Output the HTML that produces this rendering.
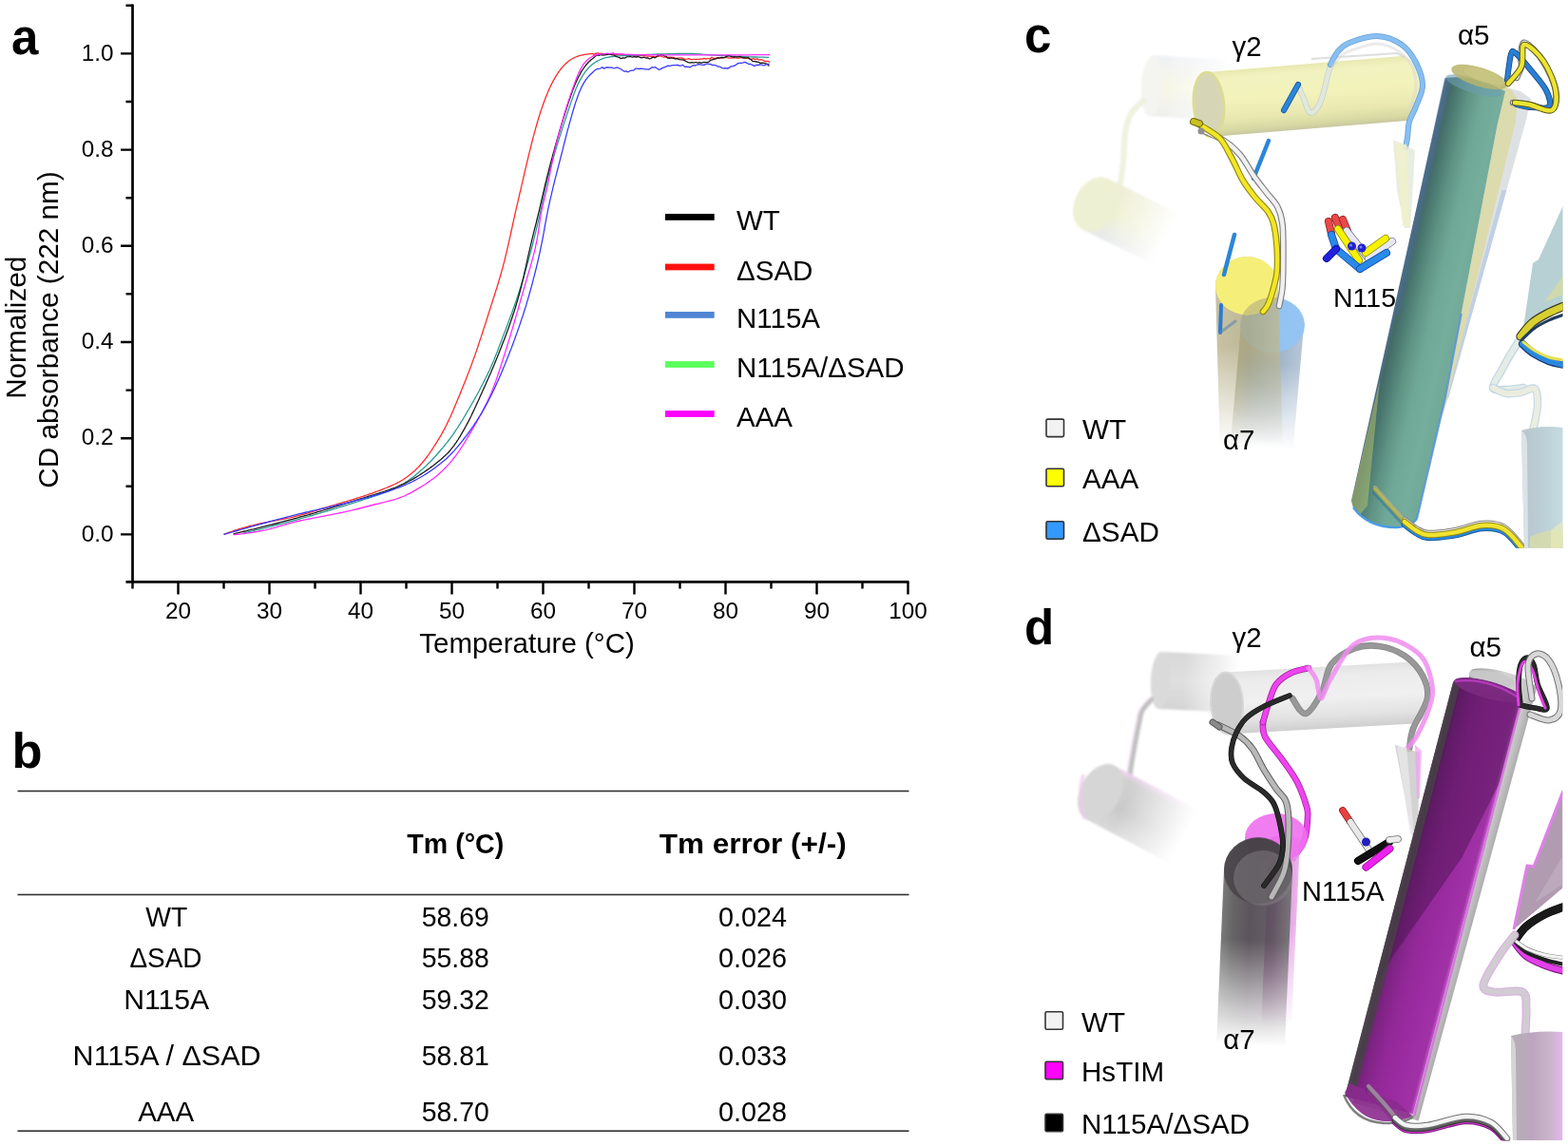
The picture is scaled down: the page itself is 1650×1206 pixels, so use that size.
<!DOCTYPE html>
<html><head><meta charset="utf-8"><title>Figure</title>
<style>html,body{margin:0;padding:0;background:#fff;} svg{display:block;}</style></head>
<body><svg width="1650" height="1206" viewBox="0 0 1650 1206">
<rect width="1650" height="1206" fill="#fff"/>
<text x="12" y="57" font-family="'Liberation Sans', Arial, sans-serif" font-weight="bold" font-size="51">a</text>
<path d="M139.5 4.5 V612.4 M132.5 612.4 H956.5" stroke="#000" stroke-width="2.7" fill="none"/>
<path d="M127.0 562.4 H139.5 M132.5 511.8 H139.5 M127.0 461.2 H139.5 M132.5 410.6 H139.5 M127.0 360.0 H139.5 M132.5 309.4 H139.5 M127.0 258.8 H139.5 M132.5 208.2 H139.5 M127.0 157.6 H139.5 M132.5 107.0 H139.5 M127.0 56.4 H139.5 M132.5 5.8 H139.5 M139.5 612.4 V619.4 M187.5 612.4 V625.4 M235.5 612.4 V619.4 M283.5 612.4 V625.4 M331.5 612.4 V619.4 M379.5 612.4 V625.4 M427.5 612.4 V619.4 M475.5 612.4 V625.4 M523.5 612.4 V619.4 M571.5 612.4 V625.4 M619.5 612.4 V619.4 M667.5 612.4 V625.4 M715.5 612.4 V619.4 M763.5 612.4 V625.4 M811.5 612.4 V619.4 M859.5 612.4 V625.4 M907.5 612.4 V619.4 M955.5 612.4 V625.4" stroke="#000" stroke-width="2.4" fill="none"/>
<text x="119.6" y="569.6" text-anchor="end" font-family="'Liberation Sans', Arial, sans-serif" font-size="24.3">0.0</text>
<text x="119.6" y="468.4" text-anchor="end" font-family="'Liberation Sans', Arial, sans-serif" font-size="24.3">0.2</text>
<text x="119.6" y="367.2" text-anchor="end" font-family="'Liberation Sans', Arial, sans-serif" font-size="24.3">0.4</text>
<text x="119.6" y="266.0" text-anchor="end" font-family="'Liberation Sans', Arial, sans-serif" font-size="24.3">0.6</text>
<text x="119.6" y="164.8" text-anchor="end" font-family="'Liberation Sans', Arial, sans-serif" font-size="24.3">0.8</text>
<text x="119.6" y="63.6" text-anchor="end" font-family="'Liberation Sans', Arial, sans-serif" font-size="24.3">1.0</text>
<text x="187.5" y="651.2" text-anchor="middle" font-family="'Liberation Sans', Arial, sans-serif" font-size="24.3">20</text>
<text x="283.5" y="651.2" text-anchor="middle" font-family="'Liberation Sans', Arial, sans-serif" font-size="24.3">30</text>
<text x="379.5" y="651.2" text-anchor="middle" font-family="'Liberation Sans', Arial, sans-serif" font-size="24.3">40</text>
<text x="475.5" y="651.2" text-anchor="middle" font-family="'Liberation Sans', Arial, sans-serif" font-size="24.3">50</text>
<text x="571.5" y="651.2" text-anchor="middle" font-family="'Liberation Sans', Arial, sans-serif" font-size="24.3">60</text>
<text x="667.5" y="651.2" text-anchor="middle" font-family="'Liberation Sans', Arial, sans-serif" font-size="24.3">70</text>
<text x="763.5" y="651.2" text-anchor="middle" font-family="'Liberation Sans', Arial, sans-serif" font-size="24.3">80</text>
<text x="859.5" y="651.2" text-anchor="middle" font-family="'Liberation Sans', Arial, sans-serif" font-size="24.3">90</text>
<text x="955.5" y="651.2" text-anchor="middle" font-family="'Liberation Sans', Arial, sans-serif" font-size="24.3">100</text>
<text x="554.5" y="687.1" text-anchor="middle" font-family="'Liberation Sans', Arial, sans-serif" font-size="29.5">Temperature (°C)</text>
<text transform="translate(27 344.8) rotate(-90)" text-anchor="middle" font-family="'Liberation Sans', Arial, sans-serif" font-size="29.7">Normalized</text>
<text transform="translate(61.2 347) rotate(-90)" text-anchor="middle" font-family="'Liberation Sans', Arial, sans-serif" font-size="29.7">CD absorbance (222 nm)</text>
<rect x="700" y="225.0" width="51.7" height="6.8" fill="#000000"/>
<text x="775" y="242.0" font-family="'Liberation Sans', Arial, sans-serif" font-size="29.5">WT</text>
<rect x="700" y="277.6" width="51.7" height="6.8" fill="#ff1010"/>
<text x="775" y="294.6" font-family="'Liberation Sans', Arial, sans-serif" font-size="29.5">ΔSAD</text>
<rect x="700" y="328.0" width="51.7" height="6.8" fill="#4f86d4"/>
<text x="775" y="345.0" font-family="'Liberation Sans', Arial, sans-serif" font-size="29.5">N115A</text>
<rect x="700" y="380.1" width="51.7" height="6.8" fill="#5cff5c"/>
<text x="775" y="397.1" font-family="'Liberation Sans', Arial, sans-serif" font-size="29.5">N115A/ΔSAD</text>
<rect x="700" y="432.1" width="51.7" height="6.8" fill="#ff00ff"/>
<text x="775" y="449.1" font-family="'Liberation Sans', Arial, sans-serif" font-size="29.5">AAA</text>
<path d="M235.5 562.4 L237.6 561.6 L239.6 560.9 L241.5 560.2 L243.4 559.5 L245.2 558.9 L247.0 558.2 L248.9 557.6 L250.7 557.0 L252.6 556.5 L254.5 555.9 L256.4 555.3 L258.3 554.8 L260.2 554.3 L262.1 553.7 L264.0 553.2 L266.0 552.8 L267.9 552.3 L269.9 551.9 L271.8 551.4 L273.8 551.0 L275.7 550.6 L277.7 550.2 L279.6 549.8 L281.6 549.4 L283.6 549.0 L285.5 548.7 L287.5 548.3 L289.5 547.9 L291.4 547.6 L293.4 547.2 L295.4 546.8 L297.3 546.4 L299.3 546.0 L301.3 545.6 L303.2 545.2 L305.2 544.8 L307.1 544.3 L309.1 543.9 L311.0 543.4 L312.9 542.9 L314.9 542.4 L316.8 541.9 L318.7 541.4 L320.7 540.8 L322.6 540.3 L324.5 539.7 L326.4 539.2 L328.3 538.6 L330.2 538.0 L332.2 537.4 L334.1 536.8 L336.0 536.2 L337.9 535.6 L339.8 535.0 L341.7 534.5 L343.6 533.9 L345.6 533.3 L347.5 532.7 L349.4 532.1 L351.3 531.6 L353.2 531.0 L355.1 530.4 L357.1 529.8 L359.0 529.3 L360.9 528.7 L362.8 528.1 L364.7 527.6 L366.6 527.0 L368.6 526.4 L370.5 525.9 L372.4 525.3 L374.3 524.7 L376.2 524.1 L378.1 523.5 L380.0 522.9 L381.9 522.3 L383.8 521.6 L385.7 521.0 L387.6 520.4 L389.5 519.7 L391.4 519.1 L393.3 518.4 L395.2 517.7 L397.0 517.0 L398.9 516.3 L400.8 515.6 L402.7 514.9 L404.5 514.2 L406.4 513.5 L408.2 512.7 L410.1 511.9 L411.9 511.1 L413.7 510.3 L415.5 509.5 L417.3 508.6 L419.1 507.7 L420.8 506.7 L422.5 505.7 L424.2 504.7 L425.9 503.6 L427.5 502.5 L429.2 501.3 L430.7 500.1 L432.3 498.8 L433.8 497.6 L435.3 496.2 L436.8 494.9 L438.3 493.5 L439.7 492.1 L441.1 490.7 L442.4 489.2 L443.7 487.7 L445.0 486.2 L446.3 484.7 L447.5 483.1 L448.7 481.5 L449.9 479.9 L451.1 478.3 L452.2 476.7 L453.3 475.0 L454.5 473.3 L455.6 471.7 L456.6 470.0 L457.7 468.3 L458.8 466.6 L459.9 464.9 L460.9 463.2 L461.9 461.5 L463.0 459.8 L464.0 458.1 L465.0 456.3 L465.9 454.6 L466.9 452.8 L467.8 451.1 L468.7 449.3 L469.7 447.5 L470.5 445.7 L471.4 443.9 L472.3 442.1 L473.1 440.3 L474.0 438.5 L474.8 436.7 L475.6 434.8 L476.4 433.0 L477.2 431.2 L477.9 429.3 L478.7 427.5 L479.5 425.6 L480.3 423.8 L481.0 421.9 L481.8 420.1 L482.5 418.2 L483.3 416.4 L484.1 414.5 L484.8 412.7 L485.6 410.8 L486.3 409.0 L487.1 407.1 L487.8 405.3 L488.6 403.4 L489.3 401.6 L490.1 399.7 L490.8 397.8 L491.5 396.0 L492.2 394.1 L493.0 392.2 L493.7 390.4 L494.4 388.5 L495.1 386.6 L495.8 384.8 L496.5 382.9 L497.2 381.0 L497.8 379.1 L498.5 377.2 L499.2 375.4 L499.9 373.5 L500.5 371.6 L501.2 369.7 L501.8 367.8 L502.5 365.9 L503.1 364.0 L503.7 362.1 L504.4 360.2 L505.0 358.3 L505.6 356.4 L506.3 354.5 L506.9 352.6 L507.5 350.7 L508.1 348.8 L508.7 346.9 L509.3 345.0 L510.0 343.1 L510.6 341.2 L511.2 339.3 L511.8 337.4 L512.4 335.5 L513.0 333.6 L513.6 331.7 L514.2 329.8 L514.8 327.9 L515.4 326.0 L516.0 324.1 L516.6 322.1 L517.3 320.2 L517.9 318.3 L518.5 316.4 L519.1 314.5 L519.7 312.6 L520.3 310.7 L520.9 308.8 L521.5 306.9 L522.1 305.0 L522.7 303.1 L523.3 301.2 L523.9 299.2 L524.5 297.3 L525.0 295.4 L525.6 293.5 L526.2 291.6 L526.7 289.7 L527.3 287.7 L527.8 285.8 L528.3 283.9 L528.9 282.0 L529.4 280.0 L529.9 278.1 L530.4 276.2 L530.9 274.2 L531.4 272.3 L531.8 270.4 L532.3 268.4 L532.8 266.5 L533.2 264.5 L533.7 262.6 L534.1 260.6 L534.6 258.7 L535.0 256.7 L535.5 254.8 L535.9 252.8 L536.3 250.9 L536.8 248.9 L537.2 247.0 L537.6 245.0 L538.0 243.0 L538.5 241.1 L538.9 239.1 L539.3 237.2 L539.7 235.2 L540.2 233.3 L540.6 231.3 L541.0 229.4 L541.5 227.4 L541.9 225.5 L542.3 223.5 L542.8 221.6 L543.2 219.6 L543.7 217.7 L544.1 215.7 L544.6 213.8 L545.0 211.8 L545.5 209.9 L545.9 207.9 L546.4 206.0 L546.8 204.0 L547.3 202.1 L547.8 200.1 L548.2 198.2 L548.7 196.2 L549.1 194.3 L549.6 192.3 L550.0 190.4 L550.5 188.4 L550.9 186.5 L551.4 184.5 L551.8 182.6 L552.3 180.6 L552.7 178.7 L553.2 176.7 L553.6 174.8 L554.1 172.8 L554.5 170.9 L555.0 169.0 L555.5 167.0 L555.9 165.1 L556.4 163.1 L556.9 161.2 L557.4 159.2 L557.9 157.3 L558.3 155.4 L558.8 153.4 L559.3 151.5 L559.8 149.5 L560.3 147.6 L560.8 145.7 L561.3 143.7 L561.8 141.8 L562.3 139.8 L562.9 137.9 L563.4 136.0 L563.9 134.1 L564.5 132.1 L565.0 130.2 L565.6 128.3 L566.1 126.4 L566.7 124.5 L567.3 122.5 L567.9 120.6 L568.5 118.7 L569.1 116.8 L569.8 114.9 L570.4 113.0 L571.1 111.1 L571.7 109.2 L572.4 107.4 L573.1 105.5 L573.8 103.6 L574.5 101.7 L575.3 99.9 L576.1 98.0 L576.8 96.2 L577.6 94.4 L578.5 92.6 L579.3 90.7 L580.2 88.9 L581.1 87.2 L582.0 85.4 L583.0 83.6 L584.0 81.9 L585.0 80.2 L586.0 78.5 L587.1 76.8 L588.3 75.2 L589.5 73.5 L590.7 72.0 L592.0 70.4 L593.3 69.0 L594.6 67.6 L596.1 66.2 L597.6 64.9 L599.1 63.8 L600.7 62.7 L602.3 61.7 L604.0 60.8 L605.8 60.0 L607.6 59.3 L609.5 58.7 L611.3 58.2 L613.2 57.8 L615.2 57.4 L617.1 57.1 L619.1 56.8 L621.1 56.6 L623.1 56.4 L625.1 57.4 L627.1 56.1 L629.1 55.9 L631.1 56.7 L633.1 56.2 L635.1 56.6 L637.1 56.7 L639.1 57.2 L641.1 56.6 L643.1 56.9 L645.1 56.0 L647.1 56.8 L649.1 58.0 L651.1 57.1 L653.1 57.2 L655.1 57.1 L657.1 58.0 L659.1 57.9 L661.1 57.4 L663.0 58.3 L665.0 58.2 L667.0 58.5 L669.0 58.0 L671.0 59.1 L673.0 58.6 L675.0 58.5 L677.0 58.4 L679.0 58.6 L681.0 59.2 L683.0 58.8 L685.0 59.5 L687.0 59.4 L689.0 59.8 L691.0 59.7 L693.0 59.4 L695.0 58.7 L697.0 59.8 L699.0 60.2 L701.0 60.1 L703.0 60.5 L705.0 60.2 L707.0 60.4 L709.0 60.4 L711.0 61.6 L713.0 61.2 L715.0 61.1 L717.0 60.9 L718.9 61.6 L720.9 62.4 L722.9 62.1 L724.9 61.6 L726.9 62.6 L728.9 62.6 L730.9 62.4 L732.9 62.3 L734.9 62.4 L736.9 62.1 L738.9 62.1 L740.9 61.3 L742.9 62.2 L744.9 61.5 L746.9 62.2 L748.9 60.3 L750.9 61.4 L752.9 61.4 L754.9 60.7 L756.9 61.0 L758.9 61.1 L760.9 60.9 L762.9 60.4 L764.9 60.5 L766.9 61.1 L768.9 61.2 L770.9 60.7 L772.9 60.8 L774.9 60.9 L776.9 61.4 L778.9 60.6 L780.9 60.6 L782.9 61.3 L784.9 60.9 L786.9 61.3 L788.9 61.8 L790.9 62.1 L792.8 61.6 L794.8 62.7 L796.8 61.9 L798.8 63.2 L800.7 62.7 L802.7 63.2 L804.7 64.5 L806.6 64.4 L808.6 64.7 L810.3 65.3" stroke="#ff2a2a" stroke-width="1.3" fill="none" stroke-linejoin="round"/>
<path d="M256.4 561.0 L258.6 560.5 L260.7 560.0 L262.6 559.5 L264.6 559.1 L266.4 558.6 L268.3 558.2 L270.2 557.7 L272.1 557.3 L274.0 556.8 L275.9 556.3 L277.8 555.9 L279.8 555.4 L281.7 554.9 L283.6 554.4 L285.6 553.9 L287.5 553.4 L289.4 552.9 L291.4 552.4 L293.3 551.9 L295.2 551.4 L297.2 550.9 L299.1 550.4 L301.1 549.9 L303.0 549.4 L304.9 548.9 L306.8 548.4 L308.8 547.8 L310.7 547.3 L312.6 546.8 L314.6 546.3 L316.5 545.7 L318.4 545.2 L320.3 544.7 L322.3 544.1 L324.2 543.6 L326.1 543.0 L328.0 542.5 L330.0 542.0 L331.9 541.4 L333.8 540.8 L335.7 540.3 L337.7 539.7 L339.6 539.2 L341.5 538.6 L343.4 538.0 L345.3 537.5 L347.3 536.9 L349.2 536.3 L351.1 535.7 L353.0 535.2 L354.9 534.6 L356.8 534.0 L358.7 533.4 L360.7 532.8 L362.6 532.2 L364.5 531.6 L366.4 531.0 L368.3 530.4 L370.2 529.8 L372.1 529.2 L374.0 528.6 L375.9 528.0 L377.8 527.4 L379.7 526.8 L381.6 526.2 L383.5 525.5 L385.5 524.9 L387.4 524.3 L389.3 523.7 L391.2 523.1 L393.1 522.5 L395.0 521.8 L396.9 521.2 L398.8 520.6 L400.7 519.9 L402.6 519.2 L404.5 518.6 L406.4 517.9 L408.3 517.2 L410.1 516.4 L411.9 515.7 L413.8 514.9 L415.5 514.0 L417.3 513.2 L419.1 512.2 L420.8 511.3 L422.5 510.3 L424.2 509.3 L425.9 508.2 L427.5 507.1 L429.2 506.0 L430.8 504.8 L432.4 503.6 L434.0 502.4 L435.6 501.2 L437.1 499.9 L438.7 498.6 L440.2 497.4 L441.8 496.1 L443.3 494.8 L444.8 493.5 L446.3 492.1 L447.8 490.8 L449.2 489.4 L450.6 488.0 L452.1 486.6 L453.5 485.2 L454.8 483.8 L456.2 482.3 L457.6 480.8 L458.9 479.3 L460.2 477.8 L461.5 476.3 L462.8 474.8 L464.1 473.3 L465.4 471.8 L466.7 470.2 L468.0 468.7 L469.2 467.1 L470.5 465.6 L471.7 464.0 L472.9 462.4 L474.1 460.8 L475.3 459.2 L476.5 457.6 L477.6 455.9 L478.7 454.3 L479.8 452.6 L480.9 451.0 L482.0 449.3 L483.1 447.6 L484.2 445.9 L485.2 444.2 L486.3 442.5 L487.3 440.8 L488.3 439.1 L489.4 437.4 L490.4 435.6 L491.4 433.9 L492.4 432.2 L493.4 430.5 L494.4 428.7 L495.4 427.0 L496.4 425.3 L497.4 423.5 L498.4 421.8 L499.4 420.0 L500.3 418.3 L501.3 416.5 L502.3 414.8 L503.2 413.0 L504.2 411.3 L505.1 409.5 L506.0 407.7 L507.0 405.9 L507.9 404.2 L508.8 402.4 L509.7 400.6 L510.6 398.8 L511.5 397.0 L512.4 395.2 L513.3 393.4 L514.1 391.6 L515.0 389.8 L515.8 388.0 L516.6 386.2 L517.4 384.3 L518.2 382.5 L519.0 380.7 L519.8 378.8 L520.5 377.0 L521.3 375.1 L522.0 373.3 L522.7 371.4 L523.5 369.5 L524.2 367.7 L524.9 365.8 L525.6 363.9 L526.3 362.1 L527.0 360.2 L527.7 358.3 L528.4 356.4 L529.1 354.6 L529.8 352.7 L530.6 350.8 L531.3 349.0 L532.0 347.1 L532.7 345.2 L533.4 343.3 L534.1 341.5 L534.8 339.6 L535.5 337.7 L536.2 335.8 L536.9 334.0 L537.6 332.1 L538.3 330.2 L539.0 328.3 L539.6 326.4 L540.3 324.6 L541.0 322.7 L541.6 320.8 L542.3 318.9 L543.0 317.0 L543.6 315.1 L544.2 313.2 L544.9 311.3 L545.5 309.4 L546.1 307.5 L546.7 305.6 L547.3 303.7 L547.9 301.8 L548.5 299.9 L549.1 298.0 L549.7 296.1 L550.3 294.2 L550.9 292.3 L551.4 290.4 L552.0 288.4 L552.5 286.5 L553.1 284.6 L553.6 282.7 L554.2 280.7 L554.7 278.8 L555.3 276.9 L555.8 275.0 L556.3 273.0 L556.8 271.1 L557.3 269.2 L557.9 267.2 L558.4 265.3 L558.9 263.4 L559.4 261.4 L559.9 259.5 L560.4 257.6 L560.9 255.6 L561.4 253.7 L561.9 251.7 L562.3 249.8 L562.8 247.9 L563.3 245.9 L563.8 244.0 L564.2 242.0 L564.7 240.1 L565.2 238.1 L565.6 236.2 L566.1 234.2 L566.5 232.3 L567.0 230.3 L567.4 228.4 L567.8 226.4 L568.3 224.5 L568.7 222.5 L569.1 220.6 L569.5 218.6 L569.9 216.7 L570.3 214.7 L570.7 212.7 L571.1 210.8 L571.5 208.8 L571.9 206.9 L572.4 204.9 L572.8 202.9 L573.2 201.0 L573.6 199.0 L574.1 197.1 L574.5 195.1 L575.0 193.2 L575.5 191.3 L576.0 189.3 L576.4 187.4 L576.9 185.4 L577.5 183.5 L578.0 181.6 L578.5 179.6 L579.0 177.7 L579.5 175.8 L580.1 173.9 L580.6 171.9 L581.2 170.0 L581.7 168.1 L582.3 166.2 L582.8 164.2 L583.4 162.3 L583.9 160.4 L584.5 158.5 L585.1 156.6 L585.7 154.6 L586.2 152.7 L586.8 150.8 L587.4 148.9 L588.0 147.0 L588.6 145.1 L589.2 143.2 L589.8 141.3 L590.4 139.4 L591.0 137.5 L591.6 135.6 L592.2 133.7 L592.9 131.8 L593.5 129.9 L594.1 128.0 L594.8 126.1 L595.4 124.2 L596.0 122.3 L596.7 120.4 L597.3 118.4 L597.9 116.5 L598.6 114.6 L599.2 112.7 L599.8 110.8 L600.5 108.9 L601.1 107.0 L601.8 105.1 L602.4 103.2 L603.1 101.3 L603.8 99.4 L604.5 97.5 L605.2 95.7 L605.9 93.8 L606.7 92.0 L607.5 90.2 L608.3 88.4 L609.2 86.6 L610.1 84.8 L611.1 83.1 L612.1 81.3 L613.1 79.6 L614.2 78.0 L615.3 76.3 L616.5 74.7 L617.8 73.2 L619.1 71.7 L620.5 70.3 L621.9 69.0 L623.3 67.8 L624.9 66.6 L626.6 65.5 L628.3 64.4 L630.1 63.5 L631.9 62.6 L633.8 61.8 L635.7 61.2 L637.6 60.7 L639.5 60.3 L641.4 60.0 L643.4 59.7 L645.4 59.5 L647.4 59.2 L649.4 59.0 L651.5 58.9 L653.5 58.7 L655.5 58.6 L657.5 58.6 L659.5 58.5 L661.5 58.4 L663.5 58.4 L665.5 58.3 L667.5 58.2 L669.5 58.2 L671.5 58.1 L673.5 58.0 L675.5 57.9 L677.5 57.7 L679.4 57.6 L681.4 57.5 L683.4 57.4 L685.4 57.3 L687.4 57.2 L689.4 57.1 L691.4 57.0 L693.4 57.0 L695.4 56.9 L697.4 56.9 L699.4 56.8 L701.4 56.8 L703.4 56.7 L705.4 56.7 L707.4 56.6 L709.4 56.6 L711.4 56.5 L713.4 56.5 L715.4 56.5 L717.4 56.4 L719.4 56.4 L721.4 56.4 L723.4 56.4 L725.4 56.4 L727.4 56.4 L729.4 56.5 L731.4 56.6 L733.4 56.7 L735.4 56.8 L737.4 57.0 L739.4 57.2 L741.4 57.3 L743.4 57.5 L745.4 57.6 L747.4 57.8 L749.4 57.9 L751.4 58.1 L753.4 58.2 L755.4 58.3 L757.4 58.4 L759.4 58.5 L761.4 58.6 L763.4 58.7 L765.4 58.8 L767.4 58.9 L769.3 59.0 L771.3 59.1 L773.3 59.2 L775.3 59.3 L777.3 59.4 L779.3 59.5 L781.3 59.5 L783.3 59.6 L785.3 59.7 L787.3 59.8 L789.3 59.8 L791.3 59.9 L793.3 60.0 L795.3 60.0 L797.3 60.1 L799.3 60.1 L801.3 60.2 L803.3 60.2 L805.3 60.3 L807.3 60.3 L809.3 60.4" stroke="#2a9a92" stroke-width="1.3" fill="none" stroke-linejoin="round"/>
<path d="M245.5 561.8 L247.7 561.3 L249.8 560.8 L251.8 560.4 L253.7 559.9 L255.5 559.5 L257.4 559.0 L259.3 558.6 L261.2 558.1 L263.1 557.7 L265.0 557.2 L267.0 556.8 L268.9 556.3 L270.8 555.8 L272.8 555.4 L274.7 554.9 L276.6 554.4 L278.6 553.9 L280.5 553.4 L282.5 552.9 L284.4 552.4 L286.3 552.0 L288.3 551.5 L290.2 551.0 L292.2 550.5 L294.1 550.0 L296.0 549.4 L298.0 548.9 L299.9 548.4 L301.8 547.9 L303.8 547.4 L305.7 546.9 L307.6 546.4 L309.5 545.8 L311.5 545.3 L313.4 544.8 L315.3 544.2 L317.2 543.7 L319.2 543.2 L321.1 542.6 L323.0 542.1 L324.9 541.5 L326.9 541.0 L328.8 540.4 L330.7 539.9 L332.6 539.3 L334.5 538.7 L336.5 538.2 L338.4 537.6 L340.3 537.0 L342.2 536.4 L344.1 535.9 L346.0 535.3 L348.0 534.7 L349.9 534.1 L351.8 533.5 L353.7 532.9 L355.6 532.4 L357.5 531.8 L359.4 531.2 L361.3 530.6 L363.2 530.0 L365.2 529.4 L367.1 528.8 L369.0 528.2 L370.9 527.6 L372.8 527.0 L374.7 526.4 L376.6 525.8 L378.5 525.2 L380.4 524.6 L382.3 524.0 L384.3 523.4 L386.2 522.8 L388.1 522.2 L390.0 521.7 L391.9 521.1 L393.8 520.5 L395.8 519.9 L397.7 519.3 L399.6 518.7 L401.5 518.1 L403.4 517.5 L405.3 516.9 L407.2 516.2 L409.1 515.6 L411.0 514.9 L412.8 514.2 L414.7 513.5 L416.6 512.8 L418.4 512.0 L420.2 511.2 L422.1 510.4 L423.9 509.6 L425.7 508.8 L427.5 507.9 L429.2 507.0 L431.0 506.0 L432.7 505.1 L434.5 504.1 L436.2 503.1 L437.9 502.1 L439.6 501.0 L441.3 500.0 L443.0 498.9 L444.7 497.8 L446.4 496.7 L448.0 495.6 L449.7 494.4 L451.3 493.3 L452.9 492.1 L454.6 490.9 L456.2 489.7 L457.7 488.5 L459.3 487.3 L460.9 486.0 L462.4 484.8 L464.0 483.5 L465.5 482.2 L466.9 480.8 L468.4 479.5 L469.8 478.1 L471.2 476.7 L472.6 475.2 L473.9 473.7 L475.1 472.2 L476.4 470.6 L477.6 469.1 L478.7 467.4 L479.9 465.8 L481.0 464.1 L482.1 462.5 L483.1 460.8 L484.2 459.1 L485.2 457.3 L486.2 455.6 L487.2 453.9 L488.2 452.2 L489.2 450.4 L490.1 448.7 L491.1 446.9 L492.0 445.1 L493.0 443.4 L493.9 441.6 L494.8 439.8 L495.7 438.0 L496.5 436.2 L497.4 434.4 L498.2 432.6 L499.1 430.8 L499.9 429.0 L500.8 427.2 L501.6 425.3 L502.4 423.5 L503.3 421.7 L504.1 419.9 L504.9 418.0 L505.7 416.2 L506.6 414.4 L507.4 412.6 L508.2 410.7 L509.0 408.9 L509.9 407.1 L510.7 405.3 L511.5 403.4 L512.3 401.6 L513.1 399.8 L513.9 398.0 L514.7 396.1 L515.6 394.3 L516.4 392.5 L517.1 390.6 L517.9 388.8 L518.7 387.0 L519.5 385.1 L520.3 383.3 L521.0 381.4 L521.8 379.6 L522.5 377.7 L523.3 375.9 L524.0 374.0 L524.8 372.2 L525.5 370.3 L526.2 368.4 L527.0 366.6 L527.7 364.7 L528.4 362.8 L529.1 361.0 L529.9 359.1 L530.6 357.2 L531.3 355.4 L532.0 353.5 L532.7 351.6 L533.4 349.7 L534.1 347.8 L534.8 346.0 L535.5 344.1 L536.1 342.2 L536.8 340.3 L537.5 338.4 L538.1 336.5 L538.8 334.6 L539.4 332.7 L540.0 330.8 L540.7 328.9 L541.3 327.0 L541.9 325.1 L542.5 323.2 L543.1 321.3 L543.6 319.4 L544.2 317.5 L544.8 315.6 L545.3 313.7 L545.8 311.7 L546.4 309.8 L546.9 307.9 L547.4 306.0 L547.9 304.0 L548.4 302.1 L548.9 300.2 L549.3 298.2 L549.8 296.3 L550.3 294.3 L550.7 292.4 L551.2 290.4 L551.6 288.5 L552.0 286.5 L552.5 284.6 L552.9 282.6 L553.4 280.7 L553.8 278.7 L554.2 276.8 L554.6 274.8 L555.1 272.8 L555.5 270.9 L555.9 268.9 L556.4 267.0 L556.8 265.0 L557.3 263.1 L557.7 261.1 L558.2 259.2 L558.6 257.2 L559.1 255.3 L559.5 253.3 L560.0 251.4 L560.5 249.4 L561.0 247.5 L561.4 245.6 L561.9 243.6 L562.4 241.7 L562.9 239.7 L563.4 237.8 L563.9 235.9 L564.4 233.9 L564.8 232.0 L565.3 230.0 L565.8 228.1 L566.3 226.1 L566.7 224.2 L567.2 222.3 L567.7 220.3 L568.1 218.4 L568.6 216.4 L569.0 214.5 L569.5 212.5 L569.9 210.6 L570.4 208.6 L570.8 206.7 L571.3 204.7 L571.7 202.8 L572.2 200.8 L572.6 198.9 L573.1 196.9 L573.5 195.0 L574.0 193.0 L574.5 191.1 L575.0 189.2 L575.4 187.2 L575.9 185.3 L576.4 183.3 L576.9 181.4 L577.4 179.5 L577.9 177.5 L578.4 175.6 L578.9 173.7 L579.4 171.7 L579.9 169.8 L580.4 167.9 L581.0 165.9 L581.5 164.0 L582.0 162.1 L582.5 160.1 L583.1 158.2 L583.6 156.3 L584.1 154.3 L584.7 152.4 L585.2 150.5 L585.8 148.6 L586.3 146.6 L586.9 144.7 L587.4 142.8 L588.0 140.9 L588.5 139.0 L589.1 137.0 L589.7 135.1 L590.3 133.2 L590.8 131.3 L591.4 129.4 L592.0 127.5 L592.6 125.6 L593.2 123.6 L593.8 121.7 L594.4 119.8 L595.0 117.9 L595.6 116.0 L596.2 114.1 L596.8 112.2 L597.4 110.3 L598.0 108.4 L598.7 106.5 L599.3 104.6 L600.0 102.7 L600.6 100.8 L601.3 98.9 L602.0 97.0 L602.6 95.1 L603.4 93.3 L604.1 91.4 L604.8 89.5 L605.6 87.7 L606.4 85.9 L607.3 84.1 L608.1 82.3 L609.0 80.5 L610.0 78.7 L610.9 76.9 L611.9 75.2 L613.0 73.5 L614.1 71.9 L615.2 70.3 L616.4 68.7 L617.7 67.2 L619.0 65.8 L620.4 64.4 L621.9 63.0 L623.5 61.8 L625.1 60.6 L626.8 58.9 L628.5 57.8 L630.3 58.3 L632.2 57.5 L634.2 58.0 L636.2 57.9 L638.3 57.5 L640.3 57.1 L642.3 57.2 L644.2 57.9 L646.1 57.7 L648.0 59.3 L649.9 60.0 L651.8 60.6 L653.7 61.7 L655.7 60.9 L657.6 61.2 L659.6 59.8 L661.6 59.7 L663.5 59.5 L665.5 60.2 L667.5 59.6 L669.6 60.0 L671.6 59.5 L673.6 60.5 L675.6 60.8 L677.6 60.1 L679.6 61.0 L681.5 60.9 L683.5 62.0 L685.5 61.2 L687.4 60.2 L689.3 60.8 L691.2 59.2 L693.1 58.1 L695.0 57.9 L696.9 57.6 L698.9 58.8 L700.8 59.1 L702.7 61.0 L704.6 61.4 L706.5 60.9 L708.5 61.3 L710.5 62.0 L712.5 61.6 L714.5 62.6 L716.4 62.9 L718.4 62.9 L720.3 63.6 L722.3 64.7 L724.2 65.7 L726.1 66.1 L728.1 65.6 L730.1 66.1 L732.1 65.5 L734.1 66.1 L736.1 65.6 L738.2 66.4 L740.1 65.5 L742.1 65.6 L744.0 65.6 L745.8 65.2 L747.7 63.4 L749.6 62.9 L751.4 62.4 L753.4 61.9 L755.3 61.0 L757.3 61.0 L759.2 60.4 L761.2 60.8 L763.2 60.1 L765.2 59.0 L767.2 58.5 L769.2 59.4 L771.2 60.0 L773.2 59.7 L775.2 60.2 L777.2 59.7 L779.2 59.5 L781.2 60.7 L783.2 60.6 L785.2 61.1 L787.1 60.5 L788.9 62.0 L790.5 62.9 L792.2 64.7 L794.0 64.7 L796.0 65.0 L798.0 65.3 L800.0 66.4 L802.0 66.2 L803.9 66.3 L805.8 66.8 L807.6 67.6 L809.5 69.6" stroke="#1a1a1a" stroke-width="1.3" fill="none" stroke-linejoin="round"/>
<path d="M245.5 562.7 L247.8 562.5 L249.9 562.3 L251.9 562.1 L253.9 561.9 L255.8 561.7 L257.7 561.5 L259.6 561.2 L261.5 560.9 L263.5 560.6 L265.4 560.3 L267.4 560.0 L269.3 559.7 L271.3 559.4 L273.2 559.0 L275.2 558.6 L277.1 558.2 L279.1 557.8 L281.0 557.3 L283.0 556.9 L284.9 556.4 L286.8 555.9 L288.8 555.3 L290.7 554.8 L292.6 554.2 L294.5 553.7 L296.5 553.1 L298.4 552.6 L300.3 552.0 L302.2 551.5 L304.2 550.9 L306.1 550.4 L308.0 549.9 L310.0 549.4 L311.9 548.9 L313.9 548.5 L315.8 548.0 L317.8 547.6 L319.7 547.2 L321.7 546.8 L323.6 546.4 L325.6 546.0 L327.6 545.6 L329.5 545.2 L331.5 544.8 L333.5 544.4 L335.4 544.1 L337.4 543.7 L339.4 543.3 L341.3 543.0 L343.3 542.6 L345.3 542.2 L347.2 541.9 L349.2 541.5 L351.1 541.1 L353.1 540.7 L355.1 540.3 L357.0 539.9 L359.0 539.5 L360.9 539.1 L362.9 538.7 L364.9 538.2 L366.8 537.8 L368.7 537.3 L370.7 536.9 L372.6 536.4 L374.6 536.0 L376.5 535.5 L378.5 535.0 L380.4 534.5 L382.3 534.0 L384.3 533.5 L386.2 533.0 L388.2 532.5 L390.1 532.0 L392.0 531.5 L394.0 531.0 L395.9 530.5 L397.9 530.1 L399.8 529.6 L401.7 529.1 L403.7 528.6 L405.6 528.2 L407.6 527.7 L409.5 527.2 L411.4 526.7 L413.4 526.2 L415.3 525.6 L417.2 525.0 L419.1 524.4 L420.9 523.7 L422.8 523.0 L424.6 522.3 L426.4 521.5 L428.2 520.6 L430.0 519.7 L431.8 518.8 L433.6 517.9 L435.3 516.9 L437.1 515.9 L438.8 514.9 L440.5 513.9 L442.2 512.9 L444.0 511.8 L445.6 510.7 L447.3 509.7 L449.0 508.6 L450.7 507.4 L452.3 506.3 L453.9 505.1 L455.5 503.9 L457.1 502.7 L458.7 501.5 L460.2 500.2 L461.7 498.9 L463.2 497.6 L464.7 496.3 L466.1 494.9 L467.5 493.5 L468.9 492.0 L470.3 490.6 L471.6 489.1 L473.0 487.6 L474.3 486.1 L475.6 484.6 L476.8 483.0 L478.1 481.5 L479.3 479.9 L480.5 478.3 L481.7 476.7 L482.8 475.0 L483.9 473.4 L485.0 471.7 L486.1 470.1 L487.2 468.4 L488.3 466.7 L489.3 465.0 L490.3 463.3 L491.4 461.5 L492.4 459.8 L493.4 458.1 L494.4 456.4 L495.5 454.7 L496.5 452.9 L497.5 451.2 L498.5 449.5 L499.5 447.7 L500.5 446.0 L501.5 444.3 L502.4 442.5 L503.4 440.8 L504.4 439.0 L505.3 437.3 L506.3 435.5 L507.2 433.8 L508.2 432.0 L509.1 430.2 L510.0 428.4 L510.9 426.6 L511.8 424.8 L512.7 423.0 L513.5 421.2 L514.4 419.4 L515.2 417.6 L516.0 415.8 L516.8 414.0 L517.5 412.1 L518.3 410.3 L519.0 408.4 L519.7 406.5 L520.4 404.7 L521.1 402.8 L521.8 400.9 L522.4 399.0 L523.1 397.1 L523.7 395.2 L524.4 393.3 L525.0 391.4 L525.6 389.5 L526.2 387.6 L526.8 385.7 L527.5 383.8 L528.1 381.9 L528.7 380.0 L529.3 378.1 L529.9 376.2 L530.5 374.3 L531.1 372.4 L531.7 370.5 L532.3 368.5 L532.9 366.6 L533.5 364.7 L534.1 362.8 L534.6 360.9 L535.2 359.0 L535.8 357.1 L536.4 355.2 L537.0 353.3 L537.5 351.3 L538.1 349.4 L538.7 347.5 L539.3 345.6 L539.8 343.7 L540.4 341.7 L541.0 339.8 L541.5 337.9 L542.1 336.0 L542.7 334.1 L543.2 332.1 L543.8 330.2 L544.3 328.3 L544.9 326.4 L545.4 324.5 L546.0 322.5 L546.5 320.6 L547.1 318.7 L547.6 316.8 L548.2 314.8 L548.7 312.9 L549.3 311.0 L549.8 309.1 L550.4 307.2 L550.9 305.2 L551.5 303.3 L552.0 301.4 L552.6 299.5 L553.2 297.5 L553.7 295.6 L554.3 293.7 L554.8 291.8 L555.4 289.8 L556.0 287.9 L556.5 286.0 L557.1 284.1 L557.7 282.1 L558.2 280.2 L558.8 278.3 L559.3 276.4 L559.8 274.4 L560.4 272.5 L560.9 270.6 L561.4 268.6 L561.9 266.7 L562.4 264.8 L562.8 262.8 L563.3 260.9 L563.7 258.9 L564.1 257.0 L564.5 255.0 L564.9 253.1 L565.3 251.1 L565.6 249.2 L566.0 247.2 L566.3 245.2 L566.6 243.2 L566.9 241.3 L567.2 239.3 L567.5 237.3 L567.8 235.3 L568.0 233.3 L568.3 231.4 L568.6 229.4 L569.0 227.4 L569.3 225.4 L569.6 223.5 L570.0 221.5 L570.4 219.6 L570.8 217.6 L571.3 215.7 L571.7 213.7 L572.2 211.8 L572.7 209.8 L573.2 207.9 L573.6 206.0 L574.1 204.0 L574.6 202.1 L575.1 200.1 L575.5 198.2 L576.0 196.2 L576.4 194.3 L576.8 192.3 L577.2 190.4 L577.6 188.4 L578.0 186.4 L578.4 184.5 L578.8 182.5 L579.1 180.5 L579.5 178.6 L579.9 176.6 L580.3 174.7 L580.7 172.7 L581.1 170.7 L581.5 168.8 L581.9 166.8 L582.3 164.9 L582.7 162.9 L583.1 161.0 L583.6 159.0 L584.0 157.1 L584.5 155.1 L584.9 153.2 L585.4 151.2 L585.9 149.3 L586.4 147.3 L586.9 145.4 L587.4 143.5 L587.9 141.5 L588.4 139.6 L588.9 137.7 L589.5 135.7 L590.0 133.8 L590.5 131.9 L591.1 129.9 L591.6 128.0 L592.2 126.1 L592.7 124.2 L593.3 122.3 L593.8 120.3 L594.4 118.4 L595.0 116.5 L595.6 114.6 L596.2 112.7 L596.8 110.8 L597.4 108.9 L598.0 107.0 L598.6 105.1 L599.3 103.2 L599.9 101.3 L600.5 99.4 L601.2 97.5 L601.9 95.5 L602.5 93.6 L603.2 91.7 L603.9 89.8 L604.6 87.9 L605.3 85.9 L606.0 84.0 L606.8 82.1 L607.5 80.2 L608.3 78.3 L609.1 76.5 L610.0 74.6 L610.9 72.9 L611.8 71.2 L612.8 69.5 L613.8 67.9 L615.0 66.4 L616.2 65.0 L617.4 63.7 L618.8 62.5 L620.3 61.3 L622.0 60.2 L623.7 59.2 L625.5 58.4 L627.4 57.8 L629.2 57.4 L631.2 57.1 L633.1 56.8 L635.2 56.6 L637.2 56.5 L639.2 56.4 L641.2 56.4 L643.2 56.5 L645.2 56.5 L647.2 56.6 L649.2 56.7 L651.2 56.8 L653.2 56.9 L655.2 57.0 L657.2 57.1 L659.2 57.3 L661.2 57.4 L663.2 57.5 L665.2 57.5 L667.2 57.6 L669.2 57.6 L671.2 57.6 L673.2 57.7 L675.2 57.7 L677.2 57.7 L679.2 57.7 L681.2 57.7 L683.2 57.7 L685.2 57.8 L687.2 57.8 L689.2 57.8 L691.2 57.8 L693.2 57.8 L695.2 57.8 L697.2 57.8 L699.2 57.9 L701.2 57.9 L703.2 57.9 L705.2 57.9 L707.2 57.9 L709.2 57.9 L711.2 57.9 L713.2 57.9 L715.2 57.9 L717.2 57.9 L719.2 57.9 L721.2 57.9 L723.2 57.9 L725.2 57.9 L727.2 57.9 L729.2 57.9 L731.2 57.9 L733.2 57.9 L735.2 57.9 L737.2 57.9 L739.2 57.9 L741.2 57.9 L743.2 57.9 L745.2 57.9 L747.2 57.9 L749.2 57.9 L751.2 57.9 L753.2 57.9 L755.2 57.9 L757.2 57.9 L759.2 57.9 L761.2 57.9 L763.2 57.9 L765.2 57.9 L767.2 57.9 L769.2 57.8 L771.2 57.8 L773.2 57.8 L775.2 57.8 L777.2 57.8 L779.2 57.8 L781.2 57.8 L783.2 57.8 L785.2 57.8 L787.2 57.8 L789.2 57.8 L791.2 57.7 L793.2 57.7 L795.2 57.7 L797.2 57.7 L799.2 57.7 L801.2 57.7 L803.2 57.7 L805.2 57.6 L807.2 57.6 L809.2 57.6 L810.3 57.6" stroke="#ff2aff" stroke-width="1.3" fill="none" stroke-linejoin="round"/>
<path d="M235.5 562.4 L237.7 561.8 L239.7 561.2 L241.7 560.6 L243.5 560.1 L245.4 559.5 L247.3 559.0 L249.1 558.5 L251.0 558.0 L252.9 557.4 L254.8 556.9 L256.7 556.4 L258.6 555.8 L260.5 555.3 L262.4 554.7 L264.4 554.2 L266.3 553.7 L268.2 553.1 L270.2 552.6 L272.1 552.1 L274.0 551.5 L275.9 551.0 L277.9 550.5 L279.8 550.0 L281.7 549.5 L283.7 548.9 L285.6 548.4 L287.5 547.9 L289.5 547.4 L291.4 546.9 L293.3 546.4 L295.3 545.9 L297.2 545.4 L299.1 544.9 L301.1 544.3 L303.0 543.8 L304.9 543.4 L306.9 542.9 L308.8 542.4 L310.8 541.9 L312.7 541.4 L314.6 540.9 L316.6 540.4 L318.5 540.0 L320.5 539.5 L322.4 539.0 L324.4 538.6 L326.3 538.1 L328.3 537.7 L330.2 537.2 L332.2 536.8 L334.1 536.3 L336.1 535.9 L338.0 535.4 L340.0 535.0 L341.9 534.5 L343.9 534.1 L345.8 533.6 L347.8 533.2 L349.7 532.8 L351.7 532.3 L353.6 531.9 L355.6 531.4 L357.5 531.0 L359.5 530.5 L361.4 530.1 L363.4 529.6 L365.3 529.1 L367.2 528.6 L369.2 528.2 L371.1 527.7 L373.1 527.2 L375.0 526.7 L376.9 526.2 L378.9 525.7 L380.8 525.2 L382.7 524.7 L384.7 524.1 L386.6 523.6 L388.5 523.1 L390.4 522.5 L392.4 522.0 L394.3 521.4 L396.2 520.9 L398.1 520.3 L400.0 519.7 L401.9 519.1 L403.9 518.5 L405.8 517.9 L407.7 517.3 L409.6 516.6 L411.5 516.0 L413.3 515.3 L415.2 514.7 L417.1 514.0 L419.0 513.3 L420.8 512.6 L422.7 511.8 L424.5 511.1 L426.4 510.3 L428.2 509.5 L430.0 508.7 L431.8 507.8 L433.6 507.0 L435.4 506.1 L437.2 505.2 L439.0 504.2 L440.7 503.3 L442.5 502.3 L444.2 501.3 L445.9 500.3 L447.6 499.2 L449.3 498.1 L451.0 497.0 L452.6 495.9 L454.3 494.8 L455.9 493.6 L457.5 492.5 L459.2 491.3 L460.7 490.1 L462.3 488.8 L463.9 487.6 L465.4 486.3 L467.0 485.0 L468.5 483.7 L469.9 482.4 L471.4 481.0 L472.8 479.6 L474.2 478.2 L475.6 476.8 L477.0 475.4 L478.3 473.9 L479.6 472.4 L480.9 470.9 L482.2 469.3 L483.5 467.8 L484.7 466.2 L486.0 464.7 L487.2 463.1 L488.4 461.5 L489.7 459.9 L490.9 458.3 L492.1 456.7 L493.2 455.1 L494.4 453.5 L495.6 451.8 L496.7 450.2 L497.9 448.6 L499.0 446.9 L500.1 445.2 L501.2 443.6 L502.3 441.9 L503.4 440.2 L504.4 438.5 L505.5 436.8 L506.5 435.1 L507.5 433.4 L508.5 431.6 L509.5 429.9 L510.5 428.1 L511.4 426.4 L512.4 424.6 L513.3 422.9 L514.2 421.1 L515.2 419.3 L516.1 417.5 L517.0 415.8 L517.8 414.0 L518.7 412.2 L519.6 410.4 L520.4 408.6 L521.3 406.7 L522.1 404.9 L522.9 403.1 L523.8 401.3 L524.6 399.4 L525.4 397.6 L526.2 395.8 L527.0 393.9 L527.8 392.1 L528.5 390.2 L529.3 388.4 L530.1 386.6 L530.8 384.7 L531.6 382.9 L532.3 381.0 L533.1 379.1 L533.8 377.3 L534.6 375.4 L535.3 373.6 L536.0 371.7 L536.7 369.8 L537.5 368.0 L538.2 366.1 L538.9 364.2 L539.6 362.4 L540.3 360.5 L541.0 358.6 L541.7 356.7 L542.3 354.8 L543.0 353.0 L543.7 351.1 L544.4 349.2 L545.0 347.3 L545.7 345.4 L546.4 343.5 L547.0 341.6 L547.7 339.7 L548.3 337.8 L548.9 335.9 L549.5 334.0 L550.2 332.1 L550.8 330.2 L551.4 328.3 L552.0 326.4 L552.6 324.5 L553.2 322.6 L553.8 320.7 L554.3 318.8 L554.9 316.9 L555.5 314.9 L556.0 313.0 L556.6 311.1 L557.1 309.2 L557.7 307.3 L558.2 305.3 L558.7 303.4 L559.3 301.5 L559.8 299.5 L560.3 297.6 L560.8 295.7 L561.3 293.7 L561.8 291.8 L562.3 289.9 L562.8 287.9 L563.3 286.0 L563.8 284.0 L564.3 282.1 L564.7 280.1 L565.2 278.2 L565.7 276.3 L566.1 274.3 L566.6 272.4 L567.0 270.4 L567.4 268.4 L567.9 266.5 L568.3 264.5 L568.7 262.6 L569.1 260.6 L569.5 258.7 L569.9 256.7 L570.3 254.8 L570.7 252.8 L571.1 250.8 L571.4 248.9 L571.8 246.9 L572.2 244.9 L572.5 243.0 L572.9 241.0 L573.2 239.0 L573.6 237.0 L573.9 235.1 L574.3 233.1 L574.6 231.1 L575.0 229.2 L575.4 227.2 L575.8 225.2 L576.1 223.3 L576.5 221.3 L576.9 219.4 L577.3 217.4 L577.8 215.5 L578.2 213.5 L578.6 211.6 L579.1 209.6 L579.5 207.7 L580.0 205.7 L580.4 203.8 L580.9 201.8 L581.4 199.9 L581.8 197.9 L582.3 196.0 L582.8 194.0 L583.3 192.1 L583.7 190.2 L584.2 188.2 L584.7 186.3 L585.2 184.3 L585.7 182.4 L586.2 180.5 L586.7 178.5 L587.2 176.6 L587.7 174.6 L588.2 172.7 L588.7 170.8 L589.2 168.8 L589.7 166.9 L590.2 165.0 L590.7 163.0 L591.2 161.1 L591.7 159.1 L592.2 157.2 L592.6 155.3 L593.1 153.3 L593.6 151.4 L594.1 149.5 L594.6 147.5 L595.1 145.6 L595.6 143.6 L596.1 141.7 L596.6 139.8 L597.1 137.8 L597.6 135.9 L598.2 133.9 L598.7 132.0 L599.2 130.1 L599.7 128.2 L600.3 126.2 L600.8 124.3 L601.4 122.4 L601.9 120.5 L602.5 118.5 L603.0 116.6 L603.6 114.7 L604.2 112.8 L604.8 110.8 L605.4 108.9 L606.0 107.0 L606.7 105.1 L607.3 103.2 L608.0 101.3 L608.7 99.4 L609.4 97.6 L610.2 95.7 L611.0 93.9 L611.8 92.1 L612.7 90.3 L613.6 88.6 L614.6 86.9 L615.6 85.3 L616.7 83.6 L617.9 82.1 L619.2 80.6 L620.5 79.2 L621.9 77.8 L623.4 76.4 L624.9 75.1 L626.5 73.5 L628.2 72.7 L629.9 72.4 L631.8 72.1 L633.7 70.7 L635.7 72.1 L637.7 71.0 L639.7 70.8 L641.8 71.2 L643.8 71.0 L645.8 72.0 L647.7 71.4 L649.6 71.0 L651.5 71.8 L653.3 72.8 L655.2 74.0 L657.0 75.2 L658.9 74.9 L660.8 75.8 L662.8 74.7 L664.7 74.1 L666.7 74.1 L668.7 72.2 L670.6 72.2 L672.6 72.5 L674.6 72.1 L676.6 72.3 L678.6 72.9 L680.6 72.8 L682.5 73.2 L684.4 72.2 L686.1 70.6 L687.8 71.1 L689.6 70.7 L691.4 72.0 L693.2 73.3 L695.1 72.9 L697.0 71.6 L698.9 70.8 L700.9 70.2 L702.8 69.2 L704.8 69.4 L706.7 68.9 L708.7 68.6 L710.7 68.7 L712.7 68.5 L714.7 69.0 L716.7 69.1 L718.6 68.4 L720.5 70.4 L722.4 70.2 L724.3 70.3 L726.2 70.8 L728.1 69.4 L730.0 68.7 L731.9 69.0 L733.9 68.0 L735.9 67.7 L737.9 68.1 L739.9 68.4 L741.9 68.0 L743.9 67.0 L745.9 67.3 L747.9 67.6 L749.9 68.6 L751.8 68.5 L753.8 69.2 L755.7 70.1 L757.6 70.2 L759.5 71.4 L761.4 72.0 L763.3 71.6 L765.2 72.0 L767.1 71.5 L768.9 69.9 L770.8 69.9 L772.7 69.1 L774.5 68.3 L776.4 66.7 L778.3 66.3 L780.2 66.4 L782.1 65.9 L784.0 65.3 L786.0 66.3 L787.9 67.5 L789.8 67.5 L791.8 68.3 L793.8 69.6 L795.7 68.5 L797.7 68.5 L799.7 68.0 L801.7 68.1 L803.7 69.0 L805.7 68.1 L807.7 67.5 L809.7 67.3" stroke="#3a3aff" stroke-width="1.3" fill="none" stroke-linejoin="round"/>
<text x="12.5" y="808" font-family="'Liberation Sans', Arial, sans-serif" font-weight="bold" font-size="52.5">b</text>
<rect x="18.5" y="831.7" width="938" height="1.6" fill="#303030"/>
<rect x="18.5" y="940.7" width="938" height="1.6" fill="#303030"/>
<rect x="18.5" y="1189.4" width="938" height="1.6" fill="#303030"/>
<text x="479.3" y="898" text-anchor="middle" font-family="'Liberation Sans', 'Noto Sans CJK KR', sans-serif" font-weight="bold" font-size="29" textLength="102" lengthAdjust="spacingAndGlyphs">Tm (°C)</text>
<text x="792.2" y="898" text-anchor="middle" font-family="'Liberation Sans', 'Noto Sans CJK KR', sans-serif" font-weight="bold" font-size="29" textLength="197" lengthAdjust="spacingAndGlyphs">Tm error (+/-)</text>
<text x="175.2" y="974.6" text-anchor="middle" font-family="'Liberation Sans', 'Noto Sans CJK KR', sans-serif" font-size="30" textLength="44" lengthAdjust="spacingAndGlyphs">WT</text>
<text x="479.3" y="974.6" text-anchor="middle" font-family="'Liberation Sans', 'Noto Sans CJK KR', sans-serif" font-size="30" textLength="71" lengthAdjust="spacingAndGlyphs">58.69</text>
<text x="792" y="974.6" text-anchor="middle" font-family="'Liberation Sans', 'Noto Sans CJK KR', sans-serif" font-size="30" textLength="72" lengthAdjust="spacingAndGlyphs">0.024</text>
<text x="174.4" y="1018.2" text-anchor="middle" font-family="'Liberation Sans', 'Noto Sans CJK KR', sans-serif" font-size="30" textLength="76" lengthAdjust="spacingAndGlyphs">ΔSAD</text>
<text x="479.3" y="1018.2" text-anchor="middle" font-family="'Liberation Sans', 'Noto Sans CJK KR', sans-serif" font-size="30" textLength="71" lengthAdjust="spacingAndGlyphs">55.88</text>
<text x="792" y="1018.2" text-anchor="middle" font-family="'Liberation Sans', 'Noto Sans CJK KR', sans-serif" font-size="30" textLength="72" lengthAdjust="spacingAndGlyphs">0.026</text>
<text x="175.2" y="1061.8" text-anchor="middle" font-family="'Liberation Sans', 'Noto Sans CJK KR', sans-serif" font-size="30" textLength="90" lengthAdjust="spacingAndGlyphs">N115A</text>
<text x="479.3" y="1061.8" text-anchor="middle" font-family="'Liberation Sans', 'Noto Sans CJK KR', sans-serif" font-size="30" textLength="71" lengthAdjust="spacingAndGlyphs">59.32</text>
<text x="792" y="1061.8" text-anchor="middle" font-family="'Liberation Sans', 'Noto Sans CJK KR', sans-serif" font-size="30" textLength="72" lengthAdjust="spacingAndGlyphs">0.030</text>
<text x="175.6" y="1121.2" text-anchor="middle" font-family="'Liberation Sans', 'Noto Sans CJK KR', sans-serif" font-size="30" textLength="198" lengthAdjust="spacingAndGlyphs">N115A / ΔSAD</text>
<text x="479.3" y="1121.2" text-anchor="middle" font-family="'Liberation Sans', 'Noto Sans CJK KR', sans-serif" font-size="30" textLength="71" lengthAdjust="spacingAndGlyphs">58.81</text>
<text x="792" y="1121.2" text-anchor="middle" font-family="'Liberation Sans', 'Noto Sans CJK KR', sans-serif" font-size="30" textLength="72" lengthAdjust="spacingAndGlyphs">0.033</text>
<text x="174.7" y="1179.8" text-anchor="middle" font-family="'Liberation Sans', 'Noto Sans CJK KR', sans-serif" font-size="30" textLength="59" lengthAdjust="spacingAndGlyphs">AAA</text>
<text x="479.3" y="1179.8" text-anchor="middle" font-family="'Liberation Sans', 'Noto Sans CJK KR', sans-serif" font-size="30" textLength="71" lengthAdjust="spacingAndGlyphs">58.70</text>
<text x="792" y="1179.8" text-anchor="middle" font-family="'Liberation Sans', 'Noto Sans CJK KR', sans-serif" font-size="30" textLength="72" lengthAdjust="spacingAndGlyphs">0.028</text>
<defs><clipPath id="clipC"><rect x="1060" y="0" width="584.5" height="576.8"/></clipPath></defs><g clip-path="url(#clipC)">
<defs><filter id="fblurC" x="-20%" y="-20%" width="140%" height="140%"><feGaussianBlur stdDeviation="1.3"/></filter></defs><g filter="url(#fblurC)">
<defs><linearGradient id="ccg1" gradientUnits="userSpaceOnUse" x1="0" y1="-32" x2="0" y2="32"><stop offset="0" stop-color="#eef0f6" stop-opacity="1"/><stop offset="0.5" stop-color="#f6f6e4" stop-opacity="1"/><stop offset="1" stop-color="#eeeeee" stop-opacity="1"/></linearGradient><linearGradient id="cfg3" gradientUnits="userSpaceOnUse" x1="0" y1="0" x2="88.20430828479978" y2="0"><stop offset="0.2" stop-color="#fff"/><stop offset="1.0" stop-color="#000"/></linearGradient><mask id="cfm2" maskUnits="userSpaceOnUse" x="-64" y="-64" width="216.20430828479977" height="128"><rect x="-64" y="-64" width="216.20430828479977" height="128" fill="url(#cfg3)"/></mask></defs><g transform="translate(1212.0 90.0) rotate(3.90)" opacity="0.9" mask="url(#cfm2)"><path d="M0 -32 H88.20430828479978 A11 32 0 0 1 88.20430828479978 32 H0 A11 32 0 0 1 0 -32 Z" fill="url(#ccg1)"/><ellipse cx="0" cy="0" rx="11" ry="32" fill="#f3f3f0"/></g>
<path d="M1203.0 106.0 C1200.8 108.3 1193.2 114.3 1190.0 120.0 C1186.8 125.7 1185.3 131.7 1184.0 140.0 C1182.7 148.3 1183.0 160.0 1182.0 170.0 C1181.0 180.0 1178.7 195.0 1178.0 200.0" fill="none" stroke="#e6ecf2" stroke-width="6" stroke-linecap="round" stroke-linejoin="round" opacity="0.9"/><path d="M1203.0 106.0 C1200.8 108.3 1193.2 114.3 1190.0 120.0 C1186.8 125.7 1185.3 131.7 1184.0 140.0 C1182.7 148.3 1183.0 160.0 1182.0 170.0 C1181.0 180.0 1178.7 195.0 1178.0 200.0" fill="none" stroke="#f2f4d0" stroke-width="4" stroke-linecap="round" stroke-linejoin="round" opacity="0.9"/>
<defs><linearGradient id="ccg4" gradientUnits="userSpaceOnUse" x1="0" y1="-30" x2="0" y2="30"><stop offset="0" stop-color="#eeeed8" stop-opacity="1"/><stop offset="0.5" stop-color="#eef0d0" stop-opacity="1"/><stop offset="1" stop-color="#e6e8ea" stop-opacity="1"/></linearGradient><linearGradient id="cfg6" gradientUnits="userSpaceOnUse" x1="0" y1="0" x2="83.6301381082203" y2="0"><stop offset="0.25" stop-color="#fff"/><stop offset="1.0" stop-color="#000"/></linearGradient><mask id="cfm5" maskUnits="userSpaceOnUse" x="-60" y="-60" width="203.6301381082203" height="120"><rect x="-60" y="-60" width="203.6301381082203" height="120" fill="url(#cfg6)"/></mask></defs><g transform="translate(1153.0 215.0) rotate(26.26)" opacity="0.95" mask="url(#cfm5)"><path d="M0 -30 H83.6301381082203 A22 30 0 0 1 83.6301381082203 30 H0 A22 30 0 0 1 0 -30 Z" fill="url(#ccg4)"/><ellipse cx="0" cy="0" rx="22" ry="30" fill="#eef0d2"/></g>
</g>
<defs><linearGradient id="ccg7" gradientUnits="userSpaceOnUse" x1="0" y1="-34" x2="0" y2="34"><stop offset="0" stop-color="#e8e8b0" stop-opacity="1"/><stop offset="0.12" stop-color="#f2f2c0" stop-opacity="1"/><stop offset="0.45" stop-color="#f2f2ba" stop-opacity="1"/><stop offset="0.75" stop-color="#e8e8b0" stop-opacity="1"/><stop offset="0.92" stop-color="#d8d8a4" stop-opacity="1"/><stop offset="1" stop-color="#c8c8a0" stop-opacity="1"/></linearGradient></defs><g transform="translate(1272.0 110.0) rotate(-4.72)" opacity="1.0"><path d="M0 -34 H206.70026608594387 A16 34 0 0 1 206.70026608594387 34 H0 A16 34 0 0 1 0 -34 Z" fill="url(#ccg7)"/><ellipse cx="0" cy="0" rx="16" ry="34" fill="#d6d6b6" stroke="#dcdc90" stroke-width="2.5"/></g>
<path d="M1380 62 L1470 56 L1478 60" stroke="#c8c8c8" stroke-width="2" fill="none" opacity="0.6"/>
<path d="M1366.0 90.0 C1367.0 92.3 1370.0 99.3 1372.0 104.0 C1374.0 108.7 1375.7 116.3 1378.0 118.0 C1380.3 119.7 1383.7 117.0 1386.0 114.0 C1388.3 111.0 1390.0 106.3 1392.0 100.0 C1394.0 93.7 1396.3 82.0 1398.0 76.0 C1399.7 70.0 1401.3 66.0 1402.0 64.0" fill="none" stroke="#b8cce0" stroke-width="6.1" stroke-linecap="round" stroke-linejoin="round" opacity="0.85"/><path d="M1366.0 90.0 C1367.0 92.3 1370.0 99.3 1372.0 104.0 C1374.0 108.7 1375.7 116.3 1378.0 118.0 C1380.3 119.7 1383.7 117.0 1386.0 114.0 C1388.3 111.0 1390.0 106.3 1392.0 100.0 C1394.0 93.7 1396.3 82.0 1398.0 76.0 C1399.7 70.0 1401.3 66.0 1402.0 64.0" fill="none" stroke="#e8ecd8" stroke-width="4.5" stroke-linecap="round" stroke-linejoin="round" opacity="0.85"/>
<path d="M1400.0 68.0 C1401.3 65.7 1404.7 57.8 1408.0 54.0 C1411.3 50.2 1413.2 47.7 1420.0 45.0 C1426.8 42.3 1439.8 37.7 1449.0 38.0 C1458.2 38.3 1468.2 42.3 1475.0 47.0 C1481.8 51.7 1486.3 58.8 1490.0 66.0 C1493.7 73.2 1497.0 82.3 1497.0 90.0 C1497.0 97.7 1492.3 105.7 1490.0 112.0 C1487.7 118.3 1484.5 122.5 1483.0 128.0 C1481.5 133.5 1481.7 140.5 1481.0 145.0 C1480.3 149.5 1479.3 153.3 1479.0 155.0" fill="none" stroke="#5a9ad8" stroke-width="6.1" stroke-linecap="round" stroke-linejoin="round" opacity="0.9"/><path d="M1400.0 68.0 C1401.3 65.7 1404.7 57.8 1408.0 54.0 C1411.3 50.2 1413.2 47.7 1420.0 45.0 C1426.8 42.3 1439.8 37.7 1449.0 38.0 C1458.2 38.3 1468.2 42.3 1475.0 47.0 C1481.8 51.7 1486.3 58.8 1490.0 66.0 C1493.7 73.2 1497.0 82.3 1497.0 90.0 C1497.0 97.7 1492.3 105.7 1490.0 112.0 C1487.7 118.3 1484.5 122.5 1483.0 128.0 C1481.5 133.5 1481.7 140.5 1481.0 145.0 C1480.3 149.5 1479.3 153.3 1479.0 155.0" fill="none" stroke="#8cc2f2" stroke-width="4.5" stroke-linecap="round" stroke-linejoin="round" opacity="0.9"/>
<path d="M1402.0 70.0 C1403.7 68.0 1408.2 61.0 1412.0 58.0 C1415.8 55.0 1418.8 54.0 1425.0 52.0 C1431.2 50.0 1441.2 45.7 1449.0 46.0 C1456.8 46.3 1465.8 50.0 1472.0 54.0 C1478.2 58.0 1483.0 63.7 1486.0 70.0 C1489.0 76.3 1490.3 85.0 1490.0 92.0 C1489.7 99.0 1485.0 108.7 1484.0 112.0" fill="none" stroke="#d8d8d8" stroke-width="3" stroke-linecap="round" stroke-linejoin="round" opacity="0.5"/>
<line x1="1366" y1="89" x2="1351" y2="116" stroke="#1a5aa0" stroke-width="6.1" stroke-linecap="round" opacity="1"/><line x1="1366" y1="89" x2="1351" y2="116" stroke="#2b86d8" stroke-width="4.5" stroke-linecap="round" opacity="1"/>
<path d="M1466 147 L1489 158 L1486 210 L1484 240 L1478 240 L1470 200 Z" fill="#e4e8d8" opacity="0.8"/>
<path d="M1468 150 L1480 152 L1483 238 L1476 238 Z" fill="#f0f0c8" opacity="0.8"/>
<defs><linearGradient id="ccg8" gradientUnits="userSpaceOnUse" x1="0" y1="-33" x2="0" y2="33"><stop offset="0" stop-color="#b6c6d6" stop-opacity="1"/><stop offset="0.35" stop-color="#9fb4ca" stop-opacity="1"/><stop offset="0.7" stop-color="#9aaec0" stop-opacity="1"/><stop offset="1" stop-color="#a8a898" stop-opacity="1"/></linearGradient><linearGradient id="cfg10" gradientUnits="userSpaceOnUse" x1="0" y1="0" x2="136.5283853270081" y2="0"><stop offset="0.3" stop-color="#fff"/><stop offset="0.95" stop-color="#000"/></linearGradient><mask id="cfm9" maskUnits="userSpaceOnUse" x="-66" y="-66" width="268.5283853270081" height="132"><rect x="-66" y="-66" width="268.5283853270081" height="132" fill="url(#cfg10)"/></mask></defs><g transform="translate(1339.0 342.0) rotate(95.04)" opacity="1.0" mask="url(#cfm9)"><path d="M0 -33 H136.5283853270081 V33 H0 A29 33 0 0 1 0 -33 Z" fill="url(#ccg8)"/></g>
<ellipse cx="1339" cy="342" rx="34" ry="29" fill="#92c4f2" opacity="0.95"/>
<defs><linearGradient id="ccg11" gradientUnits="userSpaceOnUse" x1="0" y1="-33" x2="0" y2="33"><stop offset="0" stop-color="#c0b890" stop-opacity="0.8"/><stop offset="0.5" stop-color="#aca67c" stop-opacity="0.8"/><stop offset="1" stop-color="#b8b28c" stop-opacity="0.8"/></linearGradient><linearGradient id="cfg13" gradientUnits="userSpaceOnUse" x1="0" y1="0" x2="177.0706073858674" y2="0"><stop offset="0.35" stop-color="#fff"/><stop offset="0.95" stop-color="#000"/></linearGradient><mask id="cfm12" maskUnits="userSpaceOnUse" x="-66" y="-66" width="309.0706073858674" height="132"><rect x="-66" y="-66" width="309.0706073858674" height="132" fill="url(#cfg13)"/></mask></defs><g transform="translate(1312.0 301.0) rotate(88.38)" opacity="1.0" mask="url(#cfm12)"><path d="M0 -33 H177.0706073858674 V33 H0 A30.7 33 0 0 1 0 -33 Z" fill="url(#ccg11)"/></g>
<ellipse cx="1312" cy="300.7" rx="33" ry="30.7" fill="#f5ef7a" opacity="1"/>
<defs><clipPath id="a7clip"><ellipse cx="1312" cy="300.7" rx="33" ry="30.7"/></clipPath></defs>
<ellipse cx="1339" cy="342" rx="34" ry="29" fill="#c4c07c" opacity="0.85" clip-path="url(#a7clip)"/>
<line x1="1335" y1="148" x2="1319" y2="188" stroke="#2b86d8" stroke-width="4.5" stroke-linecap="round" opacity="1"/>
<line x1="1299" y1="247" x2="1288" y2="289" stroke="#2b86d8" stroke-width="4.5" stroke-linecap="round" opacity="1"/>
<line x1="1285" y1="321" x2="1284" y2="350" stroke="#2b7ad0" stroke-width="4" stroke-linecap="round" opacity="1"/>
<line x1="1284" y1="350" x2="1300" y2="338" stroke="#5a8ab0" stroke-width="3" stroke-linecap="round" opacity="0.6"/>
<path d="M1265.0 137.0 C1268.8 138.8 1281.3 143.7 1288.0 148.0 C1294.7 152.3 1299.7 156.7 1305.0 163.0 C1310.3 169.3 1315.3 179.3 1320.0 186.0 C1324.7 192.7 1328.9 197.7 1333.0 203.0 C1337.1 208.3 1341.8 212.5 1344.5 218.0 C1347.2 223.5 1348.5 227.5 1349.5 236.0 C1350.5 244.5 1350.3 258.0 1350.3 269.0 C1350.3 280.0 1350.2 293.2 1349.5 302.0 C1348.8 310.8 1346.6 318.7 1346.0 322.0" fill="none" stroke="#7a7a7a" stroke-width="6.7" stroke-linecap="round" stroke-linejoin="round" opacity="1.0"/><path d="M1265.0 137.0 C1268.8 138.8 1281.3 143.7 1288.0 148.0 C1294.7 152.3 1299.7 156.7 1305.0 163.0 C1310.3 169.3 1315.3 179.3 1320.0 186.0 C1324.7 192.7 1328.9 197.7 1333.0 203.0 C1337.1 208.3 1341.8 212.5 1344.5 218.0 C1347.2 223.5 1348.5 227.5 1349.5 236.0 C1350.5 244.5 1350.3 258.0 1350.3 269.0 C1350.3 280.0 1350.2 293.2 1349.5 302.0 C1348.8 310.8 1346.6 318.7 1346.0 322.0" fill="none" stroke="#f0f0f0" stroke-width="4.5" stroke-linecap="round" stroke-linejoin="round" opacity="1.0"/>
<path d="M1260.0 130.0 C1263.8 132.5 1277.0 139.0 1283.0 145.0 C1289.0 151.0 1291.8 158.5 1296.0 166.0 C1300.2 173.5 1303.8 183.0 1308.0 190.0 C1312.2 197.0 1316.6 202.5 1321.0 208.0 C1325.4 213.5 1331.4 218.3 1334.6 223.0 C1337.8 227.7 1338.9 229.7 1340.4 236.0 C1341.9 242.3 1343.2 252.7 1343.7 261.0 C1344.2 269.3 1344.2 279.2 1343.7 286.0 C1343.2 292.8 1341.9 296.3 1340.4 302.0 C1338.9 307.7 1336.5 315.7 1334.6 320.0 C1332.7 324.3 1329.9 326.7 1329.0 328.0" fill="none" stroke="#8c8410" stroke-width="6.7" stroke-linecap="round" stroke-linejoin="round" opacity="1.0"/><path d="M1260.0 130.0 C1263.8 132.5 1277.0 139.0 1283.0 145.0 C1289.0 151.0 1291.8 158.5 1296.0 166.0 C1300.2 173.5 1303.8 183.0 1308.0 190.0 C1312.2 197.0 1316.6 202.5 1321.0 208.0 C1325.4 213.5 1331.4 218.3 1334.6 223.0 C1337.8 227.7 1338.9 229.7 1340.4 236.0 C1341.9 242.3 1343.2 252.7 1343.7 261.0 C1344.2 269.3 1344.2 279.2 1343.7 286.0 C1343.2 292.8 1341.9 296.3 1340.4 302.0 C1338.9 307.7 1336.5 315.7 1334.6 320.0 C1332.7 324.3 1329.9 326.7 1329.0 328.0" fill="none" stroke="#f2e626" stroke-width="4.5" stroke-linecap="round" stroke-linejoin="round" opacity="1.0"/>
<path d="M1256.0 128.0 L1262.0 130.0" fill="none" stroke="#6a6410" stroke-width="8" stroke-linecap="round" stroke-linejoin="round" opacity="1.0"/><path d="M1256.0 128.0 L1262.0 130.0" fill="none" stroke="#c8c020" stroke-width="6" stroke-linecap="round" stroke-linejoin="round" opacity="1.0"/>
<circle cx="1264" cy="138" r="3.5" fill="#909090"/>
<path d="M1584.0 92.0 L1600.0 96.0 L1611.0 104.0 L1605.0 130.0 L1557.4 300.0 L1524.1 419.0 L1516.7 440.0 L1575.9 130.0 Z" fill="#dcdfe3" opacity="0.95"/>
<path d="M1580.4 200.0 L1585.4 200.0 L1524.1 419.0 L1521.1 419.0 Z" fill="#b8cce4" opacity="0.8"/>
<path d="M1580.0 90.0 L1590.0 94.0 L1597.0 104.0 L1594.5 130.0 L1552.5 300.0 L1523.1 419.0 L1516.7 440.0 L1575.9 130.0 Z" fill="#dadaa6" opacity="0.9"/>
<defs><linearGradient id="tealg" gradientUnits="userSpaceOnUse" x1="1455" y1="380" x2="1533" y2="398"><stop offset="0" stop-color="#4e6c86"/><stop offset="0.05" stop-color="#446a66"/><stop offset="0.14" stop-color="#4a7870"/><stop offset="0.3" stop-color="#5e9282"/><stop offset="0.5" stop-color="#70a898"/><stop offset="0.72" stop-color="#76ae9e"/><stop offset="0.92" stop-color="#70a898"/><stop offset="1" stop-color="#6aa2a6"/></linearGradient></defs>
<path d="M1521 82 Q1550 78 1584 96 L1575.9 130 L1543.4 300 L1520.7 419 L1491 546 Q1486 552 1472 554.5 Q1440 556 1424 534 L1422 527 Z" fill="url(#tealg)"/>
<path d="M1520 82 L1527 86 L1474 330 L1467 330 Z" fill="#4a6c90" opacity="0.45"/>
<path d="M1452 400 L1439 532 L1430 543 L1424 534 L1422 527 Z" fill="#c8d070" opacity="0.45"/>
<path d="M1537.7 330 L1520.7 419 L1491 546" stroke="#5a96d6" stroke-width="2.2" fill="none" opacity="0.9"/>
<ellipse cx="1551" cy="90" rx="31" ry="8" transform="rotate(17 1551 90)" fill="#6a9eb0" opacity="0.6"/>
<ellipse cx="1557" cy="81" rx="31" ry="10" transform="rotate(17 1557 81)" fill="#b8b46a" opacity="0.85"/>
<ellipse cx="1562" cy="80" rx="22" ry="6.5" transform="rotate(17 1562 80)" fill="#c9c582" opacity="0.9"/>
<path d="M1424 534 Q1440 556 1472 555 Q1486 553 1491 546" fill="none" stroke="#4a9ae8" stroke-width="2.2"/>
<path d="M1592.0 108.0 C1594.8 108.3 1602.2 108.8 1609.0 110.0 C1615.8 111.2 1628.3 117.5 1633.0 115.0 C1637.7 112.5 1638.5 103.3 1637.0 95.0 C1635.5 86.7 1629.3 73.3 1624.0 65.0 C1618.7 56.7 1609.0 46.2 1605.0 45.0 C1601.0 43.8 1600.7 53.8 1600.0 58.0 C1599.3 62.2 1601.7 66.0 1601.0 70.0 C1600.3 74.0 1596.8 80.0 1596.0 82.0" fill="none" stroke="#707070" stroke-width="6.5" stroke-linecap="round" stroke-linejoin="round" opacity="1.0"/><path d="M1592.0 108.0 C1594.8 108.3 1602.2 108.8 1609.0 110.0 C1615.8 111.2 1628.3 117.5 1633.0 115.0 C1637.7 112.5 1638.5 103.3 1637.0 95.0 C1635.5 86.7 1629.3 73.3 1624.0 65.0 C1618.7 56.7 1609.0 46.2 1605.0 45.0 C1601.0 43.8 1600.7 53.8 1600.0 58.0 C1599.3 62.2 1601.7 66.0 1601.0 70.0 C1600.3 74.0 1596.8 80.0 1596.0 82.0" fill="none" stroke="#f2f2f2" stroke-width="4.5" stroke-linecap="round" stroke-linejoin="round" opacity="1.0"/>
<path d="M1586.0 84.0 C1586.7 79.5 1588.5 61.7 1590.0 57.0 C1591.5 52.3 1591.5 53.2 1595.0 56.0 C1598.5 58.8 1605.7 67.5 1611.0 74.0 C1616.3 80.5 1623.8 88.7 1627.0 95.0 C1630.2 101.3 1632.5 109.0 1630.0 112.0 C1627.5 115.0 1617.7 113.3 1612.0 113.0 C1606.3 112.7 1598.7 110.5 1596.0 110.0" fill="none" stroke="#1a4a80" stroke-width="6.1" stroke-linecap="round" stroke-linejoin="round" opacity="1.0"/><path d="M1586.0 84.0 C1586.7 79.5 1588.5 61.7 1590.0 57.0 C1591.5 52.3 1591.5 53.2 1595.0 56.0 C1598.5 58.8 1605.7 67.5 1611.0 74.0 C1616.3 80.5 1623.8 88.7 1627.0 95.0 C1630.2 101.3 1632.5 109.0 1630.0 112.0 C1627.5 115.0 1617.7 113.3 1612.0 113.0 C1606.3 112.7 1598.7 110.5 1596.0 110.0" fill="none" stroke="#2a7fd2" stroke-width="4.5" stroke-linecap="round" stroke-linejoin="round" opacity="1.0"/>
<path d="M1587.0 88.0 C1589.3 85.0 1598.2 76.8 1601.0 70.0 C1603.8 63.2 1600.2 48.0 1604.0 47.0 C1607.8 46.0 1618.5 56.0 1624.0 64.0 C1629.5 72.0 1635.5 86.3 1637.0 95.0 C1638.5 103.7 1637.7 113.5 1633.0 116.0 C1628.3 118.5 1615.5 111.3 1609.0 110.0 C1602.5 108.7 1596.5 108.3 1594.0 108.0" fill="none" stroke="#5a5a20" stroke-width="6.5" stroke-linecap="round" stroke-linejoin="round" opacity="1.0"/><path d="M1587.0 88.0 C1589.3 85.0 1598.2 76.8 1601.0 70.0 C1603.8 63.2 1600.2 48.0 1604.0 47.0 C1607.8 46.0 1618.5 56.0 1624.0 64.0 C1629.5 72.0 1635.5 86.3 1637.0 95.0 C1638.5 103.7 1637.7 113.5 1633.0 116.0 C1628.3 118.5 1615.5 111.3 1609.0 110.0 C1602.5 108.7 1596.5 108.3 1594.0 108.0" fill="none" stroke="#ece430" stroke-width="4.5" stroke-linecap="round" stroke-linejoin="round" opacity="1.0"/>
<path d="M1447.0 518.0 C1450.0 521.3 1459.3 531.8 1465.0 538.0 C1470.7 544.2 1478.3 552.2 1481.0 555.0" fill="none" stroke="#1a5aa0" stroke-width="5.6" stroke-linecap="round" stroke-linejoin="round" opacity="0.35"/><path d="M1447.0 518.0 C1450.0 521.3 1459.3 531.8 1465.0 538.0 C1470.7 544.2 1478.3 552.2 1481.0 555.0" fill="none" stroke="#2a8ae0" stroke-width="4" stroke-linecap="round" stroke-linejoin="round" opacity="0.35"/>
<path d="M1478.0 552.0 C1480.0 553.5 1485.8 558.7 1490.0 561.0 C1494.2 563.3 1496.0 565.7 1503.0 566.0 C1510.0 566.3 1522.5 564.7 1532.0 563.0 C1541.5 561.3 1551.5 556.5 1560.0 556.0 C1568.5 555.5 1576.0 556.0 1583.0 560.0 C1590.0 564.0 1598.8 576.7 1602.0 580.0" fill="none" stroke="#1a5aa0" stroke-width="6.5" stroke-linecap="round" stroke-linejoin="round" opacity="1.0"/><path d="M1478.0 552.0 C1480.0 553.5 1485.8 558.7 1490.0 561.0 C1494.2 563.3 1496.0 565.7 1503.0 566.0 C1510.0 566.3 1522.5 564.7 1532.0 563.0 C1541.5 561.3 1551.5 556.5 1560.0 556.0 C1568.5 555.5 1576.0 556.0 1583.0 560.0 C1590.0 564.0 1598.8 576.7 1602.0 580.0" fill="none" stroke="#2a8ae0" stroke-width="4.5" stroke-linecap="round" stroke-linejoin="round" opacity="1.0"/>
<path d="M1447.0 513.0 C1450.0 516.3 1459.3 526.8 1465.0 533.0 C1470.7 539.2 1478.3 547.2 1481.0 550.0" fill="none" stroke="#808080" stroke-width="5.6" stroke-linecap="round" stroke-linejoin="round" opacity="0.35"/><path d="M1447.0 513.0 C1450.0 516.3 1459.3 526.8 1465.0 533.0 C1470.7 539.2 1478.3 547.2 1481.0 550.0" fill="none" stroke="#f4f4f4" stroke-width="4" stroke-linecap="round" stroke-linejoin="round" opacity="0.35"/>
<path d="M1478.0 547.0 C1480.0 548.5 1485.8 553.7 1490.0 556.0 C1494.2 558.3 1496.0 560.7 1503.0 561.0 C1510.0 561.3 1522.5 559.7 1532.0 558.0 C1541.5 556.3 1551.5 551.5 1560.0 551.0 C1568.5 550.5 1576.0 551.0 1583.0 555.0 C1590.0 559.0 1598.8 571.7 1602.0 575.0" fill="none" stroke="#808080" stroke-width="6.5" stroke-linecap="round" stroke-linejoin="round" opacity="1.0"/><path d="M1478.0 547.0 C1480.0 548.5 1485.8 553.7 1490.0 556.0 C1494.2 558.3 1496.0 560.7 1503.0 561.0 C1510.0 561.3 1522.5 559.7 1532.0 558.0 C1541.5 556.3 1551.5 551.5 1560.0 551.0 C1568.5 550.5 1576.0 551.0 1583.0 555.0 C1590.0 559.0 1598.8 571.7 1602.0 575.0" fill="none" stroke="#f4f4f4" stroke-width="4.5" stroke-linecap="round" stroke-linejoin="round" opacity="1.0"/>
<path d="M1447.0 515.0 C1450.0 518.3 1459.3 528.8 1465.0 535.0 C1470.7 541.2 1478.3 549.2 1481.0 552.0" fill="none" stroke="#8a8010" stroke-width="5.6" stroke-linecap="round" stroke-linejoin="round" opacity="0.35"/><path d="M1447.0 515.0 C1450.0 518.3 1459.3 528.8 1465.0 535.0 C1470.7 541.2 1478.3 549.2 1481.0 552.0" fill="none" stroke="#f0e430" stroke-width="4" stroke-linecap="round" stroke-linejoin="round" opacity="0.35"/>
<path d="M1478.0 549.0 C1480.0 550.5 1485.8 555.7 1490.0 558.0 C1494.2 560.3 1496.0 562.7 1503.0 563.0 C1510.0 563.3 1522.5 561.7 1532.0 560.0 C1541.5 558.3 1551.5 553.5 1560.0 553.0 C1568.5 552.5 1576.0 553.0 1583.0 557.0 C1590.0 561.0 1598.8 573.7 1602.0 577.0" fill="none" stroke="#8a8010" stroke-width="6.5" stroke-linecap="round" stroke-linejoin="round" opacity="1.0"/><path d="M1478.0 549.0 C1480.0 550.5 1485.8 555.7 1490.0 558.0 C1494.2 560.3 1496.0 562.7 1503.0 563.0 C1510.0 563.3 1522.5 561.7 1532.0 560.0 C1541.5 558.3 1551.5 553.5 1560.0 553.0 C1568.5 552.5 1576.0 553.0 1583.0 557.0 C1590.0 561.0 1598.8 573.7 1602.0 577.0" fill="none" stroke="#f0e430" stroke-width="4.5" stroke-linecap="round" stroke-linejoin="round" opacity="1.0"/>
<path d="M1645 216 L1645 318 L1603 345 L1613 277 L1619 273 Z" fill="#a9c8cc" opacity="0.85"/>
<path d="M1645 290 L1625 318 L1645 310 Z" fill="#e0e090" opacity="0.6"/>
<path d="M1603.0 408.0 C1600.0 408.3 1590.3 410.0 1585.0 410.0 C1579.7 410.0 1571.8 411.3 1571.0 408.0 C1570.2 404.7 1576.8 396.0 1580.0 390.0 C1583.2 384.0 1586.8 377.3 1590.0 372.0 C1593.2 366.7 1597.5 360.3 1599.0 358.0" fill="none" stroke="#b8d0e4" stroke-width="8.4" stroke-linecap="round" stroke-linejoin="round" opacity="0.9"/><path d="M1603.0 408.0 C1600.0 408.3 1590.3 410.0 1585.0 410.0 C1579.7 410.0 1571.8 411.3 1571.0 408.0 C1570.2 404.7 1576.8 396.0 1580.0 390.0 C1583.2 384.0 1586.8 377.3 1590.0 372.0 C1593.2 366.7 1597.5 360.3 1599.0 358.0" fill="none" stroke="#e8eee4" stroke-width="6" stroke-linecap="round" stroke-linejoin="round" opacity="0.9"/>
<path d="M1571.0 408.0 C1573.3 409.0 1580.2 413.2 1585.0 414.0 C1589.8 414.8 1595.0 413.8 1600.0 413.0 C1605.0 412.2 1612.0 407.0 1615.0 409.0 C1618.0 411.0 1617.8 419.8 1618.0 425.0 C1618.2 430.2 1616.8 435.3 1616.0 440.0 C1615.2 444.7 1613.5 450.8 1613.0 453.0" fill="none" stroke="#c0d4e8" stroke-width="8.4" stroke-linecap="round" stroke-linejoin="round" opacity="0.9"/><path d="M1571.0 408.0 C1573.3 409.0 1580.2 413.2 1585.0 414.0 C1589.8 414.8 1595.0 413.8 1600.0 413.0 C1605.0 412.2 1612.0 407.0 1615.0 409.0 C1618.0 411.0 1617.8 419.8 1618.0 425.0 C1618.2 430.2 1616.8 435.3 1616.0 440.0 C1615.2 444.7 1613.5 450.8 1613.0 453.0" fill="none" stroke="#eef0dc" stroke-width="6" stroke-linecap="round" stroke-linejoin="round" opacity="0.9"/>
<path d="M1600.0 354.0 C1602.0 351.7 1607.3 344.0 1612.0 340.0 C1616.7 336.0 1622.3 333.0 1628.0 330.0 C1633.7 327.0 1643.0 323.3 1646.0 322.0" fill="none" stroke="#3a3a20" stroke-width="9.4" stroke-linecap="round" stroke-linejoin="round" opacity="1.0"/><path d="M1600.0 354.0 C1602.0 351.7 1607.3 344.0 1612.0 340.0 C1616.7 336.0 1622.3 333.0 1628.0 330.0 C1633.7 327.0 1643.0 323.3 1646.0 322.0" fill="none" stroke="#d8d030" stroke-width="7" stroke-linecap="round" stroke-linejoin="round" opacity="1.0"/>
<path d="M1601.0 358.0 C1603.2 356.0 1609.2 349.5 1614.0 346.0 C1618.8 342.5 1624.7 339.5 1630.0 337.0 C1635.3 334.5 1643.3 332.0 1646.0 331.0" fill="none" stroke="#1e3c5c" stroke-width="3" stroke-linecap="round" stroke-linejoin="round" opacity="1.0"/>
<path d="M1602.0 362.0 C1604.0 363.7 1609.3 369.0 1614.0 372.0 C1618.7 375.0 1624.7 378.0 1630.0 380.0 C1635.3 382.0 1643.3 383.3 1646.0 384.0" fill="none" stroke="#1a3a6a" stroke-width="8.4" stroke-linecap="round" stroke-linejoin="round" opacity="1.0"/><path d="M1602.0 362.0 C1604.0 363.7 1609.3 369.0 1614.0 372.0 C1618.7 375.0 1624.7 378.0 1630.0 380.0 C1635.3 382.0 1643.3 383.3 1646.0 384.0" fill="none" stroke="#2a88e0" stroke-width="6" stroke-linecap="round" stroke-linejoin="round" opacity="1.0"/>
<path d="M1603.0 360.0 C1605.0 361.5 1610.5 366.3 1615.0 369.0 C1619.5 371.7 1624.8 374.3 1630.0 376.0 C1635.2 377.7 1643.3 378.5 1646.0 379.0" fill="none" stroke="#e8e050" stroke-width="3" stroke-linecap="round" stroke-linejoin="round" opacity="1.0"/>
<defs><linearGradient id="cbr" x1="0" y1="0" x2="1" y2="0"><stop offset="0" stop-color="#b8c4cc"/><stop offset="0.5" stop-color="#bccfd6"/><stop offset="1" stop-color="#c4dce0"/></linearGradient></defs>
<path d="M1601 453 Q1622 447 1645 450 L1645 577 L1604 577 Z" fill="url(#cbr)"/>
<path d="M1601 453 Q1606 456 1607 466 L1608 577 L1604 577 Z" fill="#dfe6ea" opacity="0.9"/>
<path d="M1610 565 Q1630 555 1645 560 L1645 577 L1610 577 Z" fill="#d8dca8" opacity="0.8"/>
<path d="M1632 558 L1645 548 L1645 577 L1632 577 Z" fill="#e8eab8" opacity="0.7"/>
<line x1="1398" y1="233" x2="1401" y2="246" stroke="#902020" stroke-width="8.1" stroke-linecap="round" opacity="1"/><line x1="1398" y1="233" x2="1401" y2="246" stroke="#e84848" stroke-width="6.5" stroke-linecap="round" opacity="1"/>
<line x1="1405" y1="229" x2="1410" y2="241" stroke="#902020" stroke-width="8.1" stroke-linecap="round" opacity="1"/><line x1="1405" y1="229" x2="1410" y2="241" stroke="#e84848" stroke-width="6.5" stroke-linecap="round" opacity="1"/>
<line x1="1413" y1="231" x2="1418" y2="243" stroke="#902020" stroke-width="8.1" stroke-linecap="round" opacity="1"/><line x1="1413" y1="231" x2="1418" y2="243" stroke="#e84848" stroke-width="6.5" stroke-linecap="round" opacity="1"/>
<line x1="1417" y1="243" x2="1440" y2="272" stroke="#7a7a90" stroke-width="8.1" stroke-linecap="round" opacity="1"/><line x1="1417" y1="243" x2="1440" y2="272" stroke="#e8e8f4" stroke-width="6.5" stroke-linecap="round" opacity="1"/>
<line x1="1440" y1="272" x2="1465" y2="254" stroke="#7a7a90" stroke-width="8.1" stroke-linecap="round" opacity="1"/><line x1="1440" y1="272" x2="1465" y2="254" stroke="#e8e8f4" stroke-width="6.5" stroke-linecap="round" opacity="1"/>
<line x1="1408" y1="241" x2="1430" y2="274" stroke="#8a8a00" stroke-width="8.1" stroke-linecap="round" opacity="1"/><line x1="1408" y1="241" x2="1430" y2="274" stroke="#f6f200" stroke-width="6.5" stroke-linecap="round" opacity="1"/>
<line x1="1437" y1="266" x2="1458" y2="251" stroke="#8a8a00" stroke-width="8.1" stroke-linecap="round" opacity="1"/><line x1="1437" y1="266" x2="1458" y2="251" stroke="#f6f200" stroke-width="6.5" stroke-linecap="round" opacity="1"/>
<line x1="1401" y1="247" x2="1406" y2="262" stroke="#1048a8" stroke-width="8.1" stroke-linecap="round" opacity="1"/><line x1="1401" y1="247" x2="1406" y2="262" stroke="#2a8ae8" stroke-width="6.5" stroke-linecap="round" opacity="1"/>
<line x1="1406" y1="262" x2="1431" y2="283" stroke="#1048a8" stroke-width="8.1" stroke-linecap="round" opacity="1"/><line x1="1406" y1="262" x2="1431" y2="283" stroke="#2a8ae8" stroke-width="6.5" stroke-linecap="round" opacity="1"/>
<line x1="1431" y1="283" x2="1459" y2="266" stroke="#1048a8" stroke-width="8.1" stroke-linecap="round" opacity="1"/><line x1="1431" y1="283" x2="1459" y2="266" stroke="#2a8ae8" stroke-width="6.5" stroke-linecap="round" opacity="1"/>
<line x1="1396" y1="272" x2="1406" y2="262" stroke="#101080" stroke-width="8.1" stroke-linecap="round" opacity="1"/><line x1="1396" y1="272" x2="1406" y2="262" stroke="#2020e0" stroke-width="6.5" stroke-linecap="round" opacity="1"/>
<circle cx="1422.5" cy="259" r="4.5" fill="#2020d0"/><circle cx="1433" cy="261" r="4.5" fill="#2020d0"/>
<circle cx="1421.5" cy="258" r="1.5" fill="#8080ff"/><circle cx="1432" cy="260" r="1.5" fill="#8080ff"/>
<text x="1078" y="55" font-family="'Liberation Sans', Arial, sans-serif" font-weight="bold" font-size="51">c</text>
<text x="1296.5" y="58.8" font-family="'Liberation Sans', Arial, sans-serif" font-size="29.5">γ2</text>
<text x="1534" y="47.4" font-family="'Liberation Sans', Arial, sans-serif" font-size="29.5">α5</text>
<text x="1287" y="472.7" font-family="'Liberation Sans', Arial, sans-serif" font-size="29.5">α7</text>
<text x="1403" y="322.9" font-family="'Liberation Sans', Arial, sans-serif" font-size="28.5">N115</text>
<rect x="1101" y="441.1" width="18.5" height="18.5" fill="#f2f2f2" stroke="#333" stroke-width="1.6" rx="1.5"/>
<text x="1139" y="462.2" font-family="'Liberation Sans', Arial, sans-serif" font-size="29.7">WT</text>
<rect x="1101" y="493.3" width="18.5" height="18.5" fill="#ffff00" stroke="#333" stroke-width="1.6" rx="1.5"/>
<text x="1139" y="514.4" font-family="'Liberation Sans', Arial, sans-serif" font-size="29.7">AAA</text>
<rect x="1101" y="548.7" width="18.5" height="18.5" fill="#3399ff" stroke="#333" stroke-width="1.6" rx="1.5"/>
<text x="1139" y="569.8" font-family="'Liberation Sans', Arial, sans-serif" font-size="29.7">ΔSAD</text>
</g>
<defs><clipPath id="clipD"><rect x="1060" y="600" width="584.2" height="600.2"/></clipPath></defs><g clip-path="url(#clipD)">
<defs><filter id="fblurD" x="-20%" y="-20%" width="140%" height="140%"><feGaussianBlur stdDeviation="1.3"/></filter></defs><g filter="url(#fblurD)">
<defs><linearGradient id="dcg1" gradientUnits="userSpaceOnUse" x1="0" y1="-30" x2="0" y2="30"><stop offset="0" stop-color="#d6d6d6" stop-opacity="1"/><stop offset="0.5" stop-color="#dedede" stop-opacity="1"/><stop offset="1" stop-color="#d2d2d2" stop-opacity="1"/></linearGradient><linearGradient id="dfg3" gradientUnits="userSpaceOnUse" x1="0" y1="0" x2="84.09518416651456" y2="0"><stop offset="0.3" stop-color="#fff"/><stop offset="1.0" stop-color="#000"/></linearGradient><mask id="dfm2" maskUnits="userSpaceOnUse" x="-60" y="-60" width="204.09518416651457" height="120"><rect x="-60" y="-60" width="204.09518416651457" height="120" fill="url(#dfg3)"/></mask></defs><g transform="translate(1221.0 716.0) rotate(2.73)" opacity="0.95" mask="url(#dfm2)"><path d="M0 -30 H84.09518416651456 A10 30 0 0 1 84.09518416651456 30 H0 A10 30 0 0 1 0 -30 Z" fill="url(#dcg1)"/><ellipse cx="0" cy="0" rx="10" ry="30" fill="#d8d8d8"/></g>
<path d="M1210.0 736.0 C1208.3 738.0 1202.2 744.0 1200.0 748.0 C1197.8 752.0 1198.2 754.7 1197.0 760.0 C1195.8 765.3 1194.5 771.8 1193.0 780.0 C1191.5 788.2 1189.2 800.8 1188.0 809.0 C1186.8 817.2 1186.3 825.7 1186.0 829.0" fill="none" stroke="#f0c8f0" stroke-width="4" stroke-linecap="round" stroke-linejoin="round" opacity="0.6"/>
<path d="M1212.0 736.0 C1210.3 738.0 1204.2 744.0 1202.0 748.0 C1199.8 752.0 1200.2 754.7 1199.0 760.0 C1197.8 765.3 1196.5 771.8 1195.0 780.0 C1193.5 788.2 1191.2 800.8 1190.0 809.0 C1188.8 817.2 1188.3 825.7 1188.0 829.0" fill="none" stroke="#d8d8d8" stroke-width="5.6" stroke-linecap="round" stroke-linejoin="round" opacity="0.9"/><path d="M1212.0 736.0 C1210.3 738.0 1204.2 744.0 1202.0 748.0 C1199.8 752.0 1200.2 754.7 1199.0 760.0 C1197.8 765.3 1196.5 771.8 1195.0 780.0 C1193.5 788.2 1191.2 800.8 1190.0 809.0 C1188.8 817.2 1188.3 825.7 1188.0 829.0" fill="none" stroke="#bdbdbd" stroke-width="4" stroke-linecap="round" stroke-linejoin="round" opacity="0.9"/>
<defs><linearGradient id="dcg4" gradientUnits="userSpaceOnUse" x1="0" y1="-32" x2="0" y2="32"><stop offset="0" stop-color="#f0d4f0" stop-opacity="1"/><stop offset="0.12" stop-color="#d0d0d0" stop-opacity="1"/><stop offset="0.6" stop-color="#c8c8c8" stop-opacity="1"/><stop offset="1" stop-color="#d8d8d8" stop-opacity="1"/></linearGradient><linearGradient id="dfg6" gradientUnits="userSpaceOnUse" x1="0" y1="0" x2="98.41239759298622" y2="0"><stop offset="0.3" stop-color="#fff"/><stop offset="1.0" stop-color="#000"/></linearGradient><mask id="dfm5" maskUnits="userSpaceOnUse" x="-64" y="-64" width="226.41239759298622" height="128"><rect x="-64" y="-64" width="226.41239759298622" height="128" fill="url(#dfg6)"/></mask></defs><g transform="translate(1158.0 834.0) rotate(27.87)" opacity="0.95" mask="url(#dfm5)"><path d="M0 -32 H98.41239759298622 A21 32 0 0 1 98.41239759298622 32 H0 A21 32 0 0 1 0 -32 Z" fill="url(#dcg4)"/><ellipse cx="0" cy="0" rx="21" ry="32" fill="#d4d4d4"/></g>
<path d="M1140 815 Q1133 840 1142 862" fill="none" stroke="#f0c8f0" stroke-width="4" opacity="0.7"/>
</g>
<defs><linearGradient id="dcg7" gradientUnits="userSpaceOnUse" x1="0" y1="-32.5" x2="0" y2="32.5"><stop offset="0" stop-color="#e2e2e2" stop-opacity="1"/><stop offset="0.15" stop-color="#ececec" stop-opacity="1"/><stop offset="0.5" stop-color="#f0f0f0" stop-opacity="1"/><stop offset="0.8" stop-color="#e2e2e2" stop-opacity="1"/><stop offset="1" stop-color="#cfcfcf" stop-opacity="1"/></linearGradient></defs><g transform="translate(1291.0 740.0) rotate(-3.21)" opacity="1.0"><path d="M0 -32.5 H196.30843079195554 A17 32.5 0 0 1 196.30843079195554 32.5 H0 A17 32.5 0 0 1 0 -32.5 Z" fill="url(#dcg7)"/><ellipse cx="0" cy="0" rx="17" ry="32.5" fill="#cdcdcd" stroke="#d8d8d8" stroke-width="2"/></g>
<path d="M1360.0 735.0 C1362.3 737.7 1368.8 752.2 1374.0 751.0 C1379.2 749.8 1386.5 736.7 1391.0 728.0 C1395.5 719.3 1395.3 706.6 1401.0 699.0 C1406.7 691.4 1416.7 685.7 1425.0 682.5 C1433.3 679.3 1442.2 678.8 1451.0 680.0 C1459.8 681.2 1470.3 684.8 1478.0 690.0 C1485.7 695.2 1493.0 703.5 1497.0 711.0 C1501.0 718.5 1503.7 725.7 1502.0 735.0 C1500.3 744.3 1490.2 758.2 1487.0 767.0 C1483.8 775.8 1483.7 784.5 1483.0 788.0" fill="none" stroke="#7a7a7a" stroke-width="6.6" stroke-linecap="round" stroke-linejoin="round" opacity="0.9"/><path d="M1360.0 735.0 C1362.3 737.7 1368.8 752.2 1374.0 751.0 C1379.2 749.8 1386.5 736.7 1391.0 728.0 C1395.5 719.3 1395.3 706.6 1401.0 699.0 C1406.7 691.4 1416.7 685.7 1425.0 682.5 C1433.3 679.3 1442.2 678.8 1451.0 680.0 C1459.8 681.2 1470.3 684.8 1478.0 690.0 C1485.7 695.2 1493.0 703.5 1497.0 711.0 C1501.0 718.5 1503.7 725.7 1502.0 735.0 C1500.3 744.3 1490.2 758.2 1487.0 767.0 C1483.8 775.8 1483.7 784.5 1483.0 788.0" fill="none" stroke="#9a9a9a" stroke-width="5" stroke-linecap="round" stroke-linejoin="round" opacity="0.9"/>
<path d="M1329.0 760.0 C1329.3 762.5 1327.7 768.5 1331.0 775.0 C1334.3 781.5 1343.3 791.0 1349.0 799.0 C1354.7 807.0 1360.7 814.7 1365.0 823.0 C1369.3 831.3 1373.2 842.8 1375.0 849.0 C1376.8 855.2 1376.3 854.3 1376.0 860.0 C1375.7 865.7 1375.5 875.8 1373.0 883.0 C1370.5 890.2 1363.0 899.7 1361.0 903.0" fill="none" stroke="#a020a0" stroke-width="6.6" stroke-linecap="round" stroke-linejoin="round" opacity="1.0"/><path d="M1329.0 760.0 C1329.3 762.5 1327.7 768.5 1331.0 775.0 C1334.3 781.5 1343.3 791.0 1349.0 799.0 C1354.7 807.0 1360.7 814.7 1365.0 823.0 C1369.3 831.3 1373.2 842.8 1375.0 849.0 C1376.8 855.2 1376.3 854.3 1376.0 860.0 C1375.7 865.7 1375.5 875.8 1373.0 883.0 C1370.5 890.2 1363.0 899.7 1361.0 903.0" fill="none" stroke="#ee44ee" stroke-width="5" stroke-linecap="round" stroke-linejoin="round" opacity="1.0"/>
<path d="M1377.0 703.0 C1374.0 703.8 1364.7 705.2 1359.0 708.0 C1353.3 710.8 1347.0 714.7 1343.0 720.0 C1339.0 725.3 1337.3 733.3 1335.0 740.0 C1332.7 746.7 1330.0 756.7 1329.0 760.0" fill="none" stroke="#a020a0" stroke-width="6.6" stroke-linecap="round" stroke-linejoin="round" opacity="1.0"/><path d="M1377.0 703.0 C1374.0 703.8 1364.7 705.2 1359.0 708.0 C1353.3 710.8 1347.0 714.7 1343.0 720.0 C1339.0 725.3 1337.3 733.3 1335.0 740.0 C1332.7 746.7 1330.0 756.7 1329.0 760.0" fill="none" stroke="#ee44ee" stroke-width="5" stroke-linecap="round" stroke-linejoin="round" opacity="1.0"/>
<path d="M1377.0 703.0 C1378.3 705.0 1382.8 709.7 1385.0 715.0 C1387.2 720.3 1387.5 735.0 1390.0 735.0 C1392.5 735.0 1394.2 724.5 1400.0 715.0 C1405.8 705.5 1414.8 685.2 1425.0 678.0 C1435.2 670.8 1449.3 670.0 1461.0 672.0 C1472.7 674.0 1487.3 681.8 1495.0 690.0 C1502.7 698.2 1505.5 711.8 1507.0 721.0 C1508.5 730.2 1506.8 735.8 1504.0 745.0 C1501.2 754.2 1494.0 768.8 1490.0 776.0 C1486.0 783.2 1481.7 786.0 1480.0 788.0" fill="none" stroke="#f08cf0" stroke-width="5" stroke-linecap="round" stroke-linejoin="round" opacity="0.85"/>
<path d="M1468 784 L1494 792 L1492 880 L1486 880 Z" fill="#c8c8c8" opacity="0.8"/>
<path d="M1470 786 L1480 786 L1488 878 L1484 878 Z" fill="#e8e8e8" opacity="0.8"/>
<path d="M1489 784 L1496 790 L1494 840 L1491 840 Z" fill="#f0a0f0" opacity="0.7"/>
<defs><linearGradient id="dcg8" gradientUnits="userSpaceOnUse" x1="0" y1="-16" x2="0" y2="16"><stop offset="0" stop-color="#e8a8e8" stop-opacity="1"/><stop offset="0.5" stop-color="#d880d8" stop-opacity="1"/><stop offset="1" stop-color="#b070b0" stop-opacity="1"/></linearGradient><linearGradient id="dfg10" gradientUnits="userSpaceOnUse" x1="0" y1="0" x2="196.2065238466856" y2="0"><stop offset="0.45" stop-color="#fff"/><stop offset="1.0" stop-color="#000"/></linearGradient><mask id="dfm9" maskUnits="userSpaceOnUse" x="-32" y="-32" width="260.2065238466856" height="64"><rect x="-32" y="-32" width="260.2065238466856" height="64" fill="url(#dfg10)"/></mask></defs><g transform="translate(1352.0 884.0) rotate(92.63)" opacity="0.85" mask="url(#dfm9)"><path d="M0 -16 H196.2065238466856 V16 H0 A5 16 0 0 1 0 -16 Z" fill="url(#dcg8)"/></g>
<ellipse cx="1343" cy="881.5" rx="33" ry="25.5" fill="#f070f0" opacity="0.9"/>
<defs><linearGradient id="dcg11" gradientUnits="userSpaceOnUse" x1="0" y1="-36" x2="0" y2="36"><stop offset="0" stop-color="#707070" stop-opacity="0.92"/><stop offset="0.25" stop-color="#5a505a" stop-opacity="0.92"/><stop offset="0.6" stop-color="#4e464e" stop-opacity="0.92"/><stop offset="0.85" stop-color="#5a5a5a" stop-opacity="0.92"/><stop offset="1" stop-color="#6e6e6e" stop-opacity="0.92"/></linearGradient><linearGradient id="dfg13" gradientUnits="userSpaceOnUse" x1="0" y1="0" x2="184.1738309315414" y2="0"><stop offset="0.4" stop-color="#fff"/><stop offset="1.0" stop-color="#000"/></linearGradient><mask id="dfm12" maskUnits="userSpaceOnUse" x="-72" y="-72" width="328.1738309315414" height="144"><rect x="-72" y="-72" width="328.1738309315414" height="144" fill="url(#dfg13)"/></mask></defs><g transform="translate(1324.0 916.0) rotate(92.49)" opacity="1.0" mask="url(#dfm12)"><path d="M0 -36 H184.1738309315414 V36 H0 A34 36 0 0 1 0 -36 Z" fill="url(#dcg11)"/></g>
<ellipse cx="1324" cy="916" rx="36" ry="35" fill="#454045" opacity="0.8"/>
<ellipse cx="1329" cy="924" rx="31" ry="29" fill="#8a848a" opacity="0.45"/>
<path d="M1282.0 763.0 C1285.8 765.0 1299.0 770.8 1305.0 775.0 C1311.0 779.2 1313.8 782.2 1318.0 788.0 C1322.2 793.8 1325.8 803.0 1330.0 810.0 C1334.2 817.0 1339.2 824.5 1343.0 830.0 C1346.8 835.5 1350.8 837.5 1353.0 843.0 C1355.2 848.5 1355.7 854.7 1356.0 863.0 C1356.3 871.3 1355.8 883.8 1355.0 893.0 C1354.2 902.2 1353.8 909.5 1351.0 918.0 C1348.2 926.5 1340.2 939.7 1338.0 944.0" fill="none" stroke="#5a5a5a" stroke-width="7" stroke-linecap="round" stroke-linejoin="round" opacity="1.0"/><path d="M1282.0 763.0 C1285.8 765.0 1299.0 770.8 1305.0 775.0 C1311.0 779.2 1313.8 782.2 1318.0 788.0 C1322.2 793.8 1325.8 803.0 1330.0 810.0 C1334.2 817.0 1339.2 824.5 1343.0 830.0 C1346.8 835.5 1350.8 837.5 1353.0 843.0 C1355.2 848.5 1355.7 854.7 1356.0 863.0 C1356.3 871.3 1355.8 883.8 1355.0 893.0 C1354.2 902.2 1353.8 909.5 1351.0 918.0 C1348.2 926.5 1340.2 939.7 1338.0 944.0" fill="none" stroke="#b8b8b8" stroke-width="5" stroke-linecap="round" stroke-linejoin="round" opacity="1.0"/>
<path d="M1357.0 732.0 C1352.3 734.0 1336.7 740.0 1329.0 744.0 C1321.3 748.0 1315.7 751.5 1311.0 756.0 C1306.3 760.5 1303.5 765.8 1301.0 771.0 C1298.5 776.2 1296.7 781.7 1296.0 787.0 C1295.3 792.3 1294.8 797.7 1297.0 803.0 C1299.2 808.3 1303.7 814.0 1309.0 819.0 C1314.3 824.0 1323.8 828.7 1329.0 833.0 C1334.2 837.3 1337.2 840.0 1340.0 845.0 C1342.8 850.0 1344.3 855.7 1346.0 863.0 C1347.7 870.3 1350.0 881.3 1350.0 889.0 C1350.0 896.7 1349.3 901.8 1346.0 909.0 C1342.7 916.2 1332.7 928.2 1330.0 932.0" fill="none" stroke="#111" stroke-width="5.7" stroke-linecap="round" stroke-linejoin="round" opacity="1.0"/><path d="M1357.0 732.0 C1352.3 734.0 1336.7 740.0 1329.0 744.0 C1321.3 748.0 1315.7 751.5 1311.0 756.0 C1306.3 760.5 1303.5 765.8 1301.0 771.0 C1298.5 776.2 1296.7 781.7 1296.0 787.0 C1295.3 792.3 1294.8 797.7 1297.0 803.0 C1299.2 808.3 1303.7 814.0 1309.0 819.0 C1314.3 824.0 1323.8 828.7 1329.0 833.0 C1334.2 837.3 1337.2 840.0 1340.0 845.0 C1342.8 850.0 1344.3 855.7 1346.0 863.0 C1347.7 870.3 1350.0 881.3 1350.0 889.0 C1350.0 896.7 1349.3 901.8 1346.0 909.0 C1342.7 916.2 1332.7 928.2 1330.0 932.0" fill="none" stroke="#2a2a2a" stroke-width="4.5" stroke-linecap="round" stroke-linejoin="round" opacity="1.0"/>
<path d="M1276.0 760.0 L1283.0 765.0" fill="none" stroke="#555" stroke-width="7" stroke-linecap="round" stroke-linejoin="round" opacity="1.0"/><path d="M1276.0 760.0 L1283.0 765.0" fill="none" stroke="#8a8a8a" stroke-width="5" stroke-linecap="round" stroke-linejoin="round" opacity="1.0"/>
<defs><linearGradient id="dcg14" gradientUnits="userSpaceOnUse" x1="0" y1="-36" x2="0" y2="36"><stop offset="0" stop-color="#a8a8a8" stop-opacity="0.95"/><stop offset="0.12" stop-color="#c4c4c4" stop-opacity="0.95"/><stop offset="0.5" stop-color="#d2d2d2" stop-opacity="0.95"/><stop offset="1" stop-color="#9a9a9a" stop-opacity="0.95"/></linearGradient></defs><g transform="translate(1582.0 716.0) rotate(105.28)" opacity="1.0"><path d="M0 -36 H470.6293658496036 V36 H0 A9 36 0 0 1 0 -36 Z" fill="url(#dcg14)"/></g>
<ellipse cx="1570" cy="714" rx="25" ry="7" transform="rotate(13 1570 714)" fill="#c8c8c8" opacity="0.95"/>
<defs><linearGradient id="dcg15" gradientUnits="userSpaceOnUse" x1="0" y1="-37" x2="0" y2="37"><stop offset="0" stop-color="#c458cc" stop-opacity="1"/><stop offset="0.05" stop-color="#a032a6" stop-opacity="1"/><stop offset="0.3" stop-color="#9c2ca2" stop-opacity="1"/><stop offset="0.6" stop-color="#922898" stop-opacity="1"/><stop offset="0.85" stop-color="#7a2280" stop-opacity="1"/><stop offset="0.94" stop-color="#4a2a4a" stop-opacity="1"/><stop offset="1" stop-color="#555555" stop-opacity="1"/></linearGradient></defs><g transform="translate(1565.0 727.0) rotate(104.65)" opacity="1.0"><path d="M0 -37 H450.6572977329891 V37 H0 A10 37 0 0 1 0 -37 Z" fill="url(#dcg15)"/></g>
<defs><clipPath id="dcp16"><path d="M1529.2 717.6 L1415.2 1153.6 L1486.8 1172.4 L1600.8 736.4 Z"/></clipPath></defs><g clip-path="url(#dcp16)"><path d="M1480 690 L1650 690 L1640 720 L1590 800 L1538 903 L1466 1006 L1420 1080 L1400 1110 L1400 690 Z" fill="#3a0e3e" opacity="0.4"/></g>
<path d="M1601 738 L1488 1175" stroke="#d868e0" stroke-width="2.5" opacity="0.8"/>
<defs><clipPath id="dcp17"><path d="M1529.2 717.6 L1415.2 1153.6 L1486.8 1172.4 L1600.8 736.4 Z"/></clipPath></defs><g clip-path="url(#dcp17)"><path d="M1529 716 L1537 718 L1424 1160 L1410 1160 Z" fill="#4a444a" opacity="0.75"/></g>
<ellipse cx="1566" cy="726" rx="37" ry="9" transform="rotate(15 1566 726)" fill="#7a2a80" opacity="0.95"/>
<path d="M1531 717 Q1565 712 1601 736" fill="none" stroke="#c040c8" stroke-width="2.2" opacity="0.8"/>
<path d="M1415 1150 Q1430 1178 1456 1180 Q1478 1180 1486 1174 L1470 1160 L1420 1140 Z" fill="#8a2a8e" opacity="0.9"/>
<path d="M1414 1152 Q1425 1180 1456 1182 Q1478 1182 1487 1175" fill="none" stroke="#606060" stroke-width="2.5" opacity="0.8"/>
<path d="M1600.0 742.0 C1599.7 738.3 1598.0 727.0 1598.0 720.0 C1598.0 713.0 1598.5 704.7 1600.0 700.0 C1601.5 695.3 1604.7 692.0 1607.0 692.0 C1609.3 692.0 1612.2 695.3 1614.0 700.0 C1615.8 704.7 1615.7 712.5 1618.0 720.0 C1620.3 727.5 1628.5 740.8 1628.0 745.0 C1627.5 749.2 1619.7 745.5 1615.0 745.0 C1610.3 744.5 1602.5 742.5 1600.0 742.0" fill="none" stroke="#111" stroke-width="5.7" stroke-linecap="round" stroke-linejoin="round" opacity="1.0"/><path d="M1600.0 742.0 C1599.7 738.3 1598.0 727.0 1598.0 720.0 C1598.0 713.0 1598.5 704.7 1600.0 700.0 C1601.5 695.3 1604.7 692.0 1607.0 692.0 C1609.3 692.0 1612.2 695.3 1614.0 700.0 C1615.8 704.7 1615.7 712.5 1618.0 720.0 C1620.3 727.5 1628.5 740.8 1628.0 745.0 C1627.5 749.2 1619.7 745.5 1615.0 745.0 C1610.3 744.5 1602.5 742.5 1600.0 742.0" fill="none" stroke="#2a2a2a" stroke-width="4.5" stroke-linecap="round" stroke-linejoin="round" opacity="1.0"/>
<path d="M1598.0 742.0 C1597.8 738.0 1596.2 725.5 1597.0 718.0 C1597.8 710.5 1600.5 699.3 1603.0 697.0 C1605.5 694.7 1609.2 698.5 1612.0 704.0 C1614.8 709.5 1617.7 723.2 1620.0 730.0 C1622.3 736.8 1625.0 742.5 1626.0 745.0" fill="none" stroke="#e040e0" stroke-width="3" stroke-linecap="round" stroke-linejoin="round" opacity="1.0"/>
<path d="M1612.0 735.0 C1611.3 729.2 1607.2 707.8 1608.0 700.0 C1608.8 692.2 1613.3 688.8 1617.0 688.0 C1620.7 687.2 1626.2 689.7 1630.0 695.0 C1633.8 700.3 1638.0 711.2 1640.0 720.0 C1642.0 728.8 1643.7 741.7 1642.0 748.0 C1640.3 754.3 1635.3 757.3 1630.0 758.0 C1624.7 758.7 1613.3 753.0 1610.0 752.0" fill="none" stroke="#707070" stroke-width="7" stroke-linecap="round" stroke-linejoin="round" opacity="1.0"/><path d="M1612.0 735.0 C1611.3 729.2 1607.2 707.8 1608.0 700.0 C1608.8 692.2 1613.3 688.8 1617.0 688.0 C1620.7 687.2 1626.2 689.7 1630.0 695.0 C1633.8 700.3 1638.0 711.2 1640.0 720.0 C1642.0 728.8 1643.7 741.7 1642.0 748.0 C1640.3 754.3 1635.3 757.3 1630.0 758.0 C1624.7 758.7 1613.3 753.0 1610.0 752.0" fill="none" stroke="#d8d8d8" stroke-width="5" stroke-linecap="round" stroke-linejoin="round" opacity="1.0"/>
<path d="M1440.0 1148.0 C1443.0 1151.3 1453.0 1162.2 1458.0 1168.0 C1463.0 1173.8 1468.0 1180.5 1470.0 1183.0" fill="none" stroke="#801080" stroke-width="5.6" stroke-linecap="round" stroke-linejoin="round" opacity="0.35"/><path d="M1440.0 1148.0 C1443.0 1151.3 1453.0 1162.2 1458.0 1168.0 C1463.0 1173.8 1468.0 1180.5 1470.0 1183.0" fill="none" stroke="#e040e0" stroke-width="4" stroke-linecap="round" stroke-linejoin="round" opacity="0.35"/>
<path d="M1468.0 1181.0 C1470.0 1182.3 1474.3 1187.7 1480.0 1189.0 C1485.7 1190.3 1491.7 1190.5 1502.0 1189.0 C1512.3 1187.5 1530.8 1180.5 1542.0 1180.0 C1553.2 1179.5 1561.7 1182.2 1569.0 1186.0 C1576.3 1189.8 1583.2 1200.2 1586.0 1203.0" fill="none" stroke="#801080" stroke-width="6.5" stroke-linecap="round" stroke-linejoin="round" opacity="1.0"/><path d="M1468.0 1181.0 C1470.0 1182.3 1474.3 1187.7 1480.0 1189.0 C1485.7 1190.3 1491.7 1190.5 1502.0 1189.0 C1512.3 1187.5 1530.8 1180.5 1542.0 1180.0 C1553.2 1179.5 1561.7 1182.2 1569.0 1186.0 C1576.3 1189.8 1583.2 1200.2 1586.0 1203.0" fill="none" stroke="#e040e0" stroke-width="4.5" stroke-linecap="round" stroke-linejoin="round" opacity="1.0"/>
<path d="M1440.0 1146.0 C1443.0 1149.3 1453.0 1160.2 1458.0 1166.0 C1463.0 1171.8 1468.0 1178.5 1470.0 1181.0" fill="none" stroke="#303030" stroke-width="5.6" stroke-linecap="round" stroke-linejoin="round" opacity="0.35"/><path d="M1440.0 1146.0 C1443.0 1149.3 1453.0 1160.2 1458.0 1166.0 C1463.0 1171.8 1468.0 1178.5 1470.0 1181.0" fill="none" stroke="#606060" stroke-width="4" stroke-linecap="round" stroke-linejoin="round" opacity="0.35"/>
<path d="M1468.0 1179.0 C1470.0 1180.3 1474.3 1185.7 1480.0 1187.0 C1485.7 1188.3 1491.7 1188.5 1502.0 1187.0 C1512.3 1185.5 1530.8 1178.5 1542.0 1178.0 C1553.2 1177.5 1561.7 1180.2 1569.0 1184.0 C1576.3 1187.8 1583.2 1198.2 1586.0 1201.0" fill="none" stroke="#303030" stroke-width="6.5" stroke-linecap="round" stroke-linejoin="round" opacity="1.0"/><path d="M1468.0 1179.0 C1470.0 1180.3 1474.3 1185.7 1480.0 1187.0 C1485.7 1188.3 1491.7 1188.5 1502.0 1187.0 C1512.3 1185.5 1530.8 1178.5 1542.0 1178.0 C1553.2 1177.5 1561.7 1180.2 1569.0 1184.0 C1576.3 1187.8 1583.2 1198.2 1586.0 1201.0" fill="none" stroke="#606060" stroke-width="4.5" stroke-linecap="round" stroke-linejoin="round" opacity="1.0"/>
<path d="M1440.0 1143.0 C1443.0 1146.3 1453.0 1157.2 1458.0 1163.0 C1463.0 1168.8 1468.0 1175.5 1470.0 1178.0" fill="none" stroke="#707070" stroke-width="5.6" stroke-linecap="round" stroke-linejoin="round" opacity="0.35"/><path d="M1440.0 1143.0 C1443.0 1146.3 1453.0 1157.2 1458.0 1163.0 C1463.0 1168.8 1468.0 1175.5 1470.0 1178.0" fill="none" stroke="#f4f4f4" stroke-width="4" stroke-linecap="round" stroke-linejoin="round" opacity="0.35"/>
<path d="M1468.0 1176.0 C1470.0 1177.3 1474.3 1182.7 1480.0 1184.0 C1485.7 1185.3 1491.7 1185.5 1502.0 1184.0 C1512.3 1182.5 1530.8 1175.5 1542.0 1175.0 C1553.2 1174.5 1561.7 1177.2 1569.0 1181.0 C1576.3 1184.8 1583.2 1195.2 1586.0 1198.0" fill="none" stroke="#707070" stroke-width="6.5" stroke-linecap="round" stroke-linejoin="round" opacity="1.0"/><path d="M1468.0 1176.0 C1470.0 1177.3 1474.3 1182.7 1480.0 1184.0 C1485.7 1185.3 1491.7 1185.5 1502.0 1184.0 C1512.3 1182.5 1530.8 1175.5 1542.0 1175.0 C1553.2 1174.5 1561.7 1177.2 1569.0 1181.0 C1576.3 1184.8 1583.2 1195.2 1586.0 1198.0" fill="none" stroke="#f4f4f4" stroke-width="4.5" stroke-linecap="round" stroke-linejoin="round" opacity="1.0"/>
<path d="M1645 832 L1645 934 L1593 978 L1607 911 L1614 912 Z" fill="#a890a8" opacity="0.9"/>
<path d="M1645 832 L1614 912 L1607 911 L1593 978" stroke="#e080e8" stroke-width="3" fill="none"/>
<path d="M1645 900 L1615 950 L1645 930 Z" fill="#c0b0c0" opacity="0.7"/>
<path d="M1594.0 990.0 C1596.0 987.5 1600.7 979.7 1606.0 975.0 C1611.3 970.3 1619.3 965.5 1626.0 962.0 C1632.7 958.5 1642.7 955.3 1646.0 954.0" fill="none" stroke="#000" stroke-width="8.7" stroke-linecap="round" stroke-linejoin="round" opacity="1.0"/><path d="M1594.0 990.0 C1596.0 987.5 1600.7 979.7 1606.0 975.0 C1611.3 970.3 1619.3 965.5 1626.0 962.0 C1632.7 958.5 1642.7 955.3 1646.0 954.0" fill="none" stroke="#1a1a1a" stroke-width="7.5" stroke-linecap="round" stroke-linejoin="round" opacity="1.0"/>
<path d="M1594.0 992.0 C1596.0 994.3 1600.7 1002.0 1606.0 1006.0 C1611.3 1010.0 1619.3 1013.3 1626.0 1016.0 C1632.7 1018.7 1642.7 1021.0 1646.0 1022.0" fill="none" stroke="#801080" stroke-width="8" stroke-linecap="round" stroke-linejoin="round" opacity="1.0"/><path d="M1594.0 992.0 C1596.0 994.3 1600.7 1002.0 1606.0 1006.0 C1611.3 1010.0 1619.3 1013.3 1626.0 1016.0 C1632.7 1018.7 1642.7 1021.0 1646.0 1022.0" fill="none" stroke="#e040e8" stroke-width="6" stroke-linecap="round" stroke-linejoin="round" opacity="1.0"/>
<path d="M1594.0 991.0 C1596.0 992.8 1600.7 998.8 1606.0 1002.0 C1611.3 1005.2 1619.3 1007.8 1626.0 1010.0 C1632.7 1012.2 1642.7 1014.2 1646.0 1015.0" fill="none" stroke="#202020" stroke-width="4" stroke-linecap="round" stroke-linejoin="round" opacity="1.0"/>
<path d="M1596.0 991.0 C1598.0 992.3 1603.0 996.7 1608.0 999.0 C1613.0 1001.3 1619.7 1003.5 1626.0 1005.0 C1632.3 1006.5 1642.7 1007.5 1646.0 1008.0" fill="none" stroke="#888" stroke-width="4.2" stroke-linecap="round" stroke-linejoin="round" opacity="1.0"/><path d="M1596.0 991.0 C1598.0 992.3 1603.0 996.7 1608.0 999.0 C1613.0 1001.3 1619.7 1003.5 1626.0 1005.0 C1632.3 1006.5 1642.7 1007.5 1646.0 1008.0" fill="none" stroke="#f4f4f4" stroke-width="3" stroke-linecap="round" stroke-linejoin="round" opacity="1.0"/>
<path d="M1594.0 984.0 C1591.3 987.5 1583.5 996.3 1578.0 1005.0 C1572.5 1013.7 1562.0 1029.5 1561.0 1036.0 C1560.0 1042.5 1565.2 1042.7 1572.0 1044.0 C1578.8 1045.3 1596.3 1041.0 1602.0 1044.0 C1607.7 1047.0 1605.5 1054.7 1606.0 1062.0 C1606.5 1069.3 1605.2 1083.7 1605.0 1088.0" fill="none" stroke="#d8a8e0" stroke-width="8.9" stroke-linecap="round" stroke-linejoin="round" opacity="0.9"/><path d="M1594.0 984.0 C1591.3 987.5 1583.5 996.3 1578.0 1005.0 C1572.5 1013.7 1562.0 1029.5 1561.0 1036.0 C1560.0 1042.5 1565.2 1042.7 1572.0 1044.0 C1578.8 1045.3 1596.3 1041.0 1602.0 1044.0 C1607.7 1047.0 1605.5 1054.7 1606.0 1062.0 C1606.5 1069.3 1605.2 1083.7 1605.0 1088.0" fill="none" stroke="#cfcfcf" stroke-width="6.5" stroke-linecap="round" stroke-linejoin="round" opacity="0.9"/>
<defs><linearGradient id="dbr" x1="0" y1="0" x2="1" y2="0"><stop offset="0" stop-color="#b4b0b4"/><stop offset="0.4" stop-color="#bca6be"/><stop offset="0.75" stop-color="#cab4cc"/><stop offset="1" stop-color="#e6b8ee"/></linearGradient></defs>
<path d="M1590 1090 Q1615 1084 1645 1086 L1645 1200 L1592 1200 Z" fill="url(#dbr)"/>
<path d="M1590 1090 Q1594 1094 1595 1104 L1596 1200 L1592 1200 Z" fill="#d8d8d8" opacity="0.9"/>
<line x1="1413" y1="853" x2="1421" y2="865" stroke="#801010" stroke-width="7.6" stroke-linecap="round" opacity="1"/><line x1="1413" y1="853" x2="1421" y2="865" stroke="#e84040" stroke-width="6" stroke-linecap="round" opacity="1"/>
<line x1="1421" y1="865" x2="1443" y2="898" stroke="#6a6a6a" stroke-width="7.6" stroke-linecap="round" opacity="1"/><line x1="1421" y1="865" x2="1443" y2="898" stroke="#e8e8e8" stroke-width="6" stroke-linecap="round" opacity="1"/>
<circle cx="1437.5" cy="886" r="4.5" fill="#2020c0"/>
<line x1="1429" y1="906" x2="1462" y2="886" stroke="#000" stroke-width="8.1" stroke-linecap="round" opacity="1"/><line x1="1429" y1="906" x2="1462" y2="886" stroke="#111" stroke-width="6.5" stroke-linecap="round" opacity="1"/>
<line x1="1462" y1="884" x2="1471" y2="883" stroke="#6a6a6a" stroke-width="7.6" stroke-linecap="round" opacity="1"/><line x1="1462" y1="884" x2="1471" y2="883" stroke="#ececec" stroke-width="6" stroke-linecap="round" opacity="1"/>
<line x1="1437.5" y1="912.6" x2="1462.4" y2="893" stroke="#901090" stroke-width="8.1" stroke-linecap="round" opacity="1"/><line x1="1437.5" y1="912.6" x2="1462.4" y2="893" stroke="#ee22ee" stroke-width="6.5" stroke-linecap="round" opacity="1"/>
<text x="1078" y="677.5" font-family="'Liberation Sans', Arial, sans-serif" font-weight="bold" font-size="51">d</text>
<text x="1296.5" y="680.7" font-family="'Liberation Sans', Arial, sans-serif" font-size="29.5">γ2</text>
<text x="1546.5" y="691.4" font-family="'Liberation Sans', Arial, sans-serif" font-size="29.5">α5</text>
<text x="1287.3" y="1103.6" font-family="'Liberation Sans', Arial, sans-serif" font-size="29.5">α7</text>
<text x="1370" y="948.2" font-family="'Liberation Sans', Arial, sans-serif" font-size="29">N115A</text>
<rect x="1100" y="1064.7" width="18.5" height="18.5" fill="#f2f2f2" stroke="#333" stroke-width="1.6" rx="1.5"/>
<text x="1138" y="1085.5" font-family="'Liberation Sans', Arial, sans-serif" font-size="29.6">WT</text>
<rect x="1100" y="1117.2" width="18.5" height="18.5" fill="#ff00ff" stroke="#333" stroke-width="1.6" rx="1.5"/>
<text x="1138" y="1138.0" font-family="'Liberation Sans', Arial, sans-serif" font-size="29.6">HsTIM</text>
<rect x="1100" y="1172.2" width="18.5" height="18.5" fill="#000000" stroke="#333" stroke-width="1.6" rx="1.5"/>
<text x="1138" y="1193.0" font-family="'Liberation Sans', Arial, sans-serif" font-size="29.6">N115A/ΔSAD</text>
</g>
</svg></body></html>
